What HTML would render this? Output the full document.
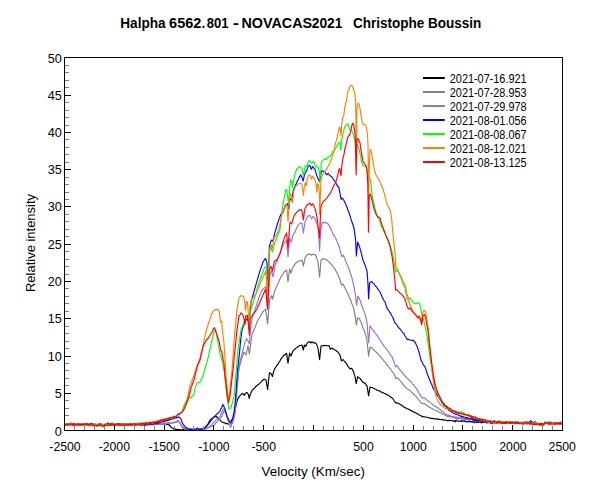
<!DOCTYPE html>
<html><head><meta charset="utf-8">
<title>Halpha 6562.801 - NOVACAS2021</title>
<style>
html,body{margin:0;padding:0;background:#fff;}
body{width:600px;height:500px;overflow:hidden;position:relative;font-family:"Liberation Sans",Arial,sans-serif;}
svg{position:absolute;left:0;top:0;display:block;}
text{font-family:"Liberation Sans",Arial,sans-serif;fill:#000;}
.tl{font-size:12.67px;}
.al{font-size:13.33px;}
.ti{font-size:13.8px;font-weight:bold;}
.lg{font-size:12px;}
.cv{fill:none;stroke-width:1.15;stroke-linejoin:round;stroke-linecap:round;}
</style></head><body>
<svg width="600" height="500" viewBox="0 0 600 500">
<rect x="0" y="0" width="600" height="500" fill="#fff"/>
<text class="ti" y="27.8" xml:space="preserve"><tspan x="120.26" textLength="45.33" lengthAdjust="spacingAndGlyphs">Halpha</tspan><tspan> </tspan><tspan x="169.14" textLength="32.19" lengthAdjust="spacingAndGlyphs">6562</tspan><tspan x="201.73" textLength="3.30" lengthAdjust="spacingAndGlyphs">.</tspan><tspan x="206.72" textLength="21.78" lengthAdjust="spacingAndGlyphs">801</tspan><tspan> </tspan><tspan x="232.70" textLength="6.20" lengthAdjust="spacingAndGlyphs">-</tspan><tspan> </tspan><tspan x="241.42" textLength="70.70" lengthAdjust="spacingAndGlyphs">NOVACAS</tspan><tspan x="311.79" textLength="30.63" lengthAdjust="spacingAndGlyphs">2021</tspan><tspan>   </tspan><tspan x="352.89" textLength="128.42" lengthAdjust="spacingAndGlyphs">Christophe Boussin</tspan></text>
<clipPath id="pc"><rect x="65" y="58" width="497" height="372"/></clipPath>
<g class="cv" clip-path="url(#pc)">
<polyline stroke="#000000" points="64.0,424.2 64.6,424.5 65.2,424.1 65.8,424.0 66.4,423.7 67.0,424.0 67.6,424.6 68.2,424.2 68.8,424.5 69.4,424.1 70.0,424.1 70.6,424.1 71.2,423.2 71.8,424.5 72.4,424.4 73.0,424.4 73.6,423.4 74.2,423.4 74.8,423.9 75.4,424.2 76.0,424.7 76.6,424.4 77.2,424.6 77.8,424.0 78.4,424.4 79.0,424.4 79.6,423.8 80.2,424.9 80.8,424.3 81.4,424.6 82.0,423.6 82.6,423.6 83.2,423.8 83.8,423.9 84.4,424.3 85.0,424.1 85.6,423.8 86.2,423.6 86.8,423.8 87.4,424.7 88.0,423.7 88.6,424.3 89.2,424.4 89.8,423.5 90.4,424.3 91.0,425.0 91.6,423.3 92.2,424.2 92.8,424.4 93.4,424.1 94.0,424.7 94.6,424.6 95.2,424.0 95.8,425.3 96.4,425.3 97.0,425.6 97.6,425.7 98.2,425.0 98.8,424.7 99.4,423.8 100.0,424.6 100.7,424.2 101.3,424.5 102.0,424.3 102.7,424.6 103.3,425.0 104.0,426.1 104.6,424.2 105.2,424.3 105.8,424.9 106.4,425.3 107.0,424.6 107.6,423.3 108.2,422.9 108.9,424.3 109.5,423.7 110.1,423.5 110.8,424.5 111.4,424.5 112.0,424.0 112.6,424.1 113.2,424.2 113.8,424.9 114.4,424.4 115.0,424.5 115.6,424.5 116.2,423.5 116.8,425.0 117.4,424.9 118.0,424.8 118.6,423.5 119.2,424.1 119.8,424.8 120.4,423.4 121.0,424.2 121.6,424.8 122.2,423.6 122.8,425.0 123.4,424.4 124.0,424.0 124.6,424.3 125.2,424.5 125.8,424.2 126.4,424.8 127.0,423.9 127.6,424.0 128.2,424.8 128.8,424.3 129.4,423.8 130.0,424.8 130.6,425.0 131.2,424.0 131.8,423.5 132.4,424.1 133.0,424.0 133.6,423.9 134.2,424.7 134.8,423.5 135.4,424.6 136.0,423.3 136.6,423.5 137.2,424.3 137.8,424.6 138.4,424.5 139.0,424.2 139.6,424.2 140.2,424.2 140.8,424.4 141.4,424.1 142.0,424.4 142.6,424.5 143.2,424.1 143.8,424.5 144.4,424.4 145.0,425.0 145.6,424.2 146.2,423.8 146.8,423.7 147.4,423.9 148.0,424.3 148.6,423.7 149.2,424.0 149.8,424.7 150.4,422.4 151.0,423.1 151.6,423.8 152.2,423.8 152.8,423.7 153.4,423.3 154.0,423.8 154.6,423.6 155.2,423.3 155.8,424.6 156.4,423.7 157.0,423.3 157.6,423.5 158.2,423.4 158.8,423.5 159.4,422.4 160.0,423.3 160.6,423.9 161.2,423.0 161.8,423.5 162.4,423.9 163.0,423.8 163.6,424.0 164.2,422.9 164.8,423.4 165.5,423.6 166.2,424.2 167.0,424.6 167.7,423.6 168.4,425.0 169.0,424.7 169.6,425.8 170.2,425.9 170.8,426.9 171.6,427.7 172.4,428.0 173.2,428.7 173.8,428.9 174.4,428.9 175.0,428.9 175.6,429.5 176.2,429.4 176.8,429.3 177.5,430.0 178.2,429.3 179.0,429.8 179.7,429.7 180.4,429.8 181.0,429.9 181.7,429.8 182.3,429.9 183.0,429.5 183.6,429.5 184.2,429.8 184.9,429.5 185.5,429.5 186.2,429.4 186.8,429.8 187.4,429.7 188.1,429.8 188.7,429.4 189.4,429.5 190.0,429.3 190.6,429.6 191.2,429.7 191.9,429.4 192.5,429.7 193.1,429.6 193.8,429.5 194.4,429.2 195.0,429.7 195.6,429.5 196.2,429.4 196.9,429.6 197.5,429.6 198.1,429.7 198.8,429.3 199.4,429.7 200.0,429.7 200.6,429.5 201.2,429.1 201.9,428.8 202.5,428.9 203.1,428.6 203.8,428.4 204.4,428.4 205.0,428.0 205.6,426.9 206.2,426.3 206.8,425.3 207.4,424.9 208.0,424.0 208.7,422.6 209.3,421.3 210.0,420.1 210.6,419.5 211.2,419.2 211.8,418.5 212.4,418.2 213.0,417.7 213.6,417.5 214.2,417.0 214.8,417.0 215.4,416.3 216.0,416.2 216.6,416.6 217.2,417.6 217.8,417.8 218.4,418.5 219.0,419.0 219.6,419.6 220.2,420.1 220.8,420.8 221.4,421.7 222.0,422.0 222.7,422.3 223.3,422.7 224.0,422.7 224.7,422.8 225.3,423.2 226.0,423.7 226.6,423.4 227.2,423.6 227.8,424.0 228.4,424.0 229.0,424.0 229.8,423.7 230.5,423.3 231.2,422.3 232.0,421.5 232.8,419.0 233.5,416.6 234.2,413.4 235.0,410.4 235.8,406.6 236.5,402.8 237.2,400.7 238.0,398.3 238.8,397.6 239.5,396.1 240.2,395.5 241.0,394.7 241.8,393.7 242.5,393.4 243.1,394.0 243.7,394.4 244.3,395.4 245.5,393.3 246.2,392.8 247.0,392.6 247.8,393.7 248.5,394.8 249.2,398.5 250.3,394.2 251.0,392.8 251.6,391.6 252.2,389.9 252.8,389.8 253.4,389.2 254.1,388.4 254.7,387.8 255.2,387.5 255.8,386.4 256.4,386.1 257.1,385.8 257.6,384.7 258.2,384.4 259.1,383.9 260.0,383.0 260.7,382.4 261.3,381.8 262.0,380.9 262.7,380.3 263.3,379.7 264.0,379.1 264.7,379.3 265.3,379.6 266.0,379.8 266.8,384.7 267.6,389.7 268.5,381.3 269.4,372.9 270.2,372.9 271.0,373.4 271.7,374.9 272.4,376.5 273.1,373.5 273.7,371.6 274.4,369.1 275.0,368.4 275.6,367.4 276.2,366.5 276.8,365.7 277.4,364.5 278.0,364.2 278.6,363.0 279.2,361.9 279.8,361.2 280.4,360.3 281.0,358.8 281.6,358.1 282.2,357.4 282.8,356.6 283.4,355.7 284.0,354.9 284.6,355.0 285.3,354.5 286.0,353.8 286.6,353.4 287.3,358.6 288.0,363.1 288.8,358.3 289.6,353.1 290.3,354.4 291.0,356.0 291.7,354.0 292.3,352.6 293.0,351.0 293.6,350.5 294.2,349.7 294.8,349.2 295.4,348.7 296.0,348.1 296.6,347.7 297.2,347.2 297.8,346.8 298.4,346.5 299.0,346.0 299.6,345.7 300.2,345.5 300.8,345.4 301.4,345.2 302.0,345.0 302.7,347.5 303.4,350.0 304.4,345.0 305.0,345.5 305.6,346.5 306.3,345.2 306.9,343.8 307.6,342.4 308.3,342.3 308.9,342.0 309.6,341.7 310.3,342.5 311.0,342.9 312.0,341.7 312.8,342.4 313.6,343.2 314.3,342.8 315.0,342.6 315.7,343.1 316.4,343.8 317.2,345.9 318.0,348.1 318.8,353.9 319.6,359.6 320.3,353.0 321.0,346.1 321.7,345.8 322.3,345.7 323.0,345.6 323.6,345.6 324.2,345.6 324.8,345.4 325.4,345.5 326.0,345.7 326.6,345.6 327.2,345.8 327.8,345.7 328.4,345.7 329.0,345.6 329.7,347.7 330.4,349.2 331.2,348.5 332.0,348.0 332.6,348.8 333.2,348.7 333.8,349.3 334.4,349.7 335.0,350.0 335.6,350.2 336.2,350.8 336.8,351.3 337.4,351.8 338.0,352.1 338.7,353.0 339.3,354.1 340.0,355.1 340.7,358.0 341.4,361.0 342.2,360.3 343.0,359.7 343.7,360.2 344.3,361.1 345.0,362.0 345.6,362.6 346.2,363.5 346.8,364.1 347.4,365.1 348.0,366.1 348.7,367.1 349.3,368.0 350.0,369.0 350.8,368.3 351.6,368.3 352.3,369.4 352.9,370.8 353.6,371.9 354.3,374.5 355.0,376.7 356.2,383.7 356.9,380.4 357.6,376.7 358.3,377.3 359.0,377.7 359.7,378.1 360.3,378.9 361.0,379.8 361.7,380.7 362.3,381.4 363.0,382.4 363.7,382.6 364.3,382.9 365.0,383.1 365.7,384.2 366.3,385.2 367.0,385.8 367.8,390.9 368.6,395.8 369.3,391.3 370.0,387.0 370.6,387.2 371.2,387.5 371.8,387.4 372.4,387.6 373.0,388.0 373.7,388.3 374.3,388.6 375.0,389.0 375.7,389.2 376.3,389.8 377.0,390.1 377.7,390.3 378.3,390.6 379.0,391.0 379.7,390.9 380.3,391.5 381.0,392.0 381.7,392.0 382.3,392.6 383.0,392.8 383.7,392.9 384.3,393.3 385.0,393.6 385.7,394.0 386.3,394.4 387.0,394.6 387.7,394.8 388.3,395.2 389.0,395.6 389.7,396.3 390.3,396.8 391.0,397.2 391.7,397.7 392.3,398.4 393.0,398.9 393.6,399.8 394.3,401.0 395.0,401.9 395.6,403.0 396.4,403.1 397.2,402.9 398.0,403.3 398.7,403.4 399.3,404.0 400.0,404.3 400.7,404.9 401.3,404.8 402.0,405.5 402.7,406.0 403.3,406.5 404.0,407.2 404.7,407.2 405.3,407.8 406.0,408.1 406.7,408.5 407.3,408.7 408.0,409.0 408.7,409.4 409.3,409.5 410.0,410.2 410.7,410.2 411.3,410.7 412.0,411.3 412.7,411.3 413.3,411.7 414.0,412.2 414.7,412.3 415.3,412.5 416.0,413.0 416.7,413.4 417.3,413.8 418.0,413.9 418.7,414.7 419.3,415.1 420.0,415.2 420.7,415.6 421.3,415.9 422.0,416.6 422.7,416.4 423.3,416.7 424.0,416.6 424.7,416.7 425.3,417.0 426.0,417.2 426.7,417.2 427.3,417.2 428.0,417.6 428.7,417.7 429.3,417.9 430.0,418.2 430.6,418.3 431.2,418.1 431.8,418.6 432.4,418.4 433.0,418.6 433.6,418.5 434.2,418.7 434.8,418.5 435.4,419.2 436.0,419.2 436.6,418.9 437.2,418.9 437.8,418.9 438.5,419.5 439.1,419.3 439.7,419.4 440.3,419.5 440.9,419.6 441.5,419.5 442.2,419.8 442.8,419.5 443.4,419.9 444.0,420.1 444.6,420.2 445.2,420.1 445.8,420.0 446.5,420.3 447.1,420.3 447.7,420.9 448.3,420.8 448.9,420.6 449.5,420.6 450.2,420.3 450.8,420.3 451.4,420.5 452.0,420.8 452.6,420.9 453.2,421.0 453.8,421.5 454.5,420.6 455.1,420.9 455.7,421.9 456.3,420.2 456.9,420.8 457.5,421.0 458.2,421.1 458.8,421.2 459.4,421.0 460.0,421.2 460.6,421.2 461.2,421.5 461.9,420.4 462.5,420.9 463.1,421.3 463.8,420.9 464.4,420.9 465.0,421.7 465.6,421.1 466.2,421.8 466.9,421.9 467.5,421.7 468.1,421.8 468.8,421.6 469.4,421.0 470.0,421.7 470.6,422.0 471.2,421.5 471.9,421.7 472.5,422.2 473.1,421.4 473.8,422.2 474.4,422.8 475.0,421.6 475.6,422.0 476.2,421.9 476.9,422.7 477.5,422.2 478.1,422.5 478.8,421.7 479.4,422.1 480.0,422.1 480.6,421.2 481.2,422.9 481.9,422.6 482.5,421.3 483.1,422.6 483.8,422.2 484.4,422.5 485.0,422.5 485.6,421.6 486.2,422.2 486.9,423.1 487.5,422.1 488.1,421.9 488.8,421.8 489.4,421.9 490.0,422.7 490.6,423.4 491.2,422.7 491.9,422.7 492.5,423.7 493.1,422.3 493.8,422.2 494.4,422.9 495.0,422.9 495.6,422.1 496.2,422.0 496.9,422.8 497.5,422.8 498.1,422.0 498.8,422.6 499.4,422.4 500.0,422.9 500.6,422.6 501.2,422.7 501.9,422.5 502.5,423.2 503.1,423.4 503.8,422.5 504.4,423.1 505.0,422.3 505.6,422.7 506.2,423.1 506.9,423.5 507.5,422.5 508.1,422.7 508.8,422.8 509.4,422.0 510.0,422.7 510.6,422.4 511.2,422.9 511.9,422.2 512.5,421.8 513.1,422.8 513.8,422.9 514.4,422.5 515.0,423.2 515.6,422.7 516.2,422.5 516.9,423.1 517.5,422.1 518.1,422.5 518.8,422.9 519.4,423.3 520.0,422.8 520.6,423.1 521.2,422.6 521.9,423.1 522.5,423.8 523.1,422.6 523.8,424.2 524.4,422.7 525.0,423.0 525.6,423.1 526.2,423.5 526.9,422.4 527.5,422.0 528.1,423.4 528.8,423.5 529.4,423.4 530.0,424.4 530.6,423.2 531.2,423.3 531.8,423.6 532.4,423.4 533.0,424.0 533.6,422.6 534.2,423.1 534.8,421.5 535.4,423.7 536.0,423.1 536.7,423.9 537.3,424.6 538.0,423.6 538.7,423.6 539.3,423.6 540.0,423.5 540.6,423.6 541.2,424.2 541.8,423.9 542.4,423.9 543.0,423.8 543.6,424.1 544.2,423.7 544.8,423.1 545.4,423.3 546.0,422.6 546.7,422.2 547.3,423.5 548.0,423.0 548.7,422.4 549.3,423.4 550.0,423.1 550.7,422.2 551.3,423.8 552.0,423.3 552.7,423.6 553.3,423.3 554.0,423.2 554.7,422.5 555.3,423.7 556.0,423.2 556.7,423.0 557.3,423.3 558.0,423.1 558.7,423.5 559.3,423.0 560.0,423.2 560.7,422.2 561.3,423.1 562.0,423.6"/>
<polyline stroke="#808080" points="64.0,424.7 64.6,425.0 65.2,424.1 65.8,424.2 66.4,425.0 67.0,424.0 67.6,424.5 68.2,425.0 68.8,424.1 69.4,424.7 70.0,423.6 70.6,424.2 71.2,424.1 71.8,424.2 72.4,424.8 73.0,425.5 73.6,424.0 74.2,424.1 74.8,424.7 75.4,424.0 76.0,424.8 76.6,424.8 77.2,424.3 77.8,424.7 78.4,423.6 79.0,424.7 79.6,423.5 80.2,423.8 80.8,423.8 81.4,423.9 82.0,424.4 82.6,424.1 83.2,423.8 83.8,424.3 84.4,424.9 85.0,424.1 85.6,424.3 86.2,424.8 86.8,424.3 87.4,423.5 88.0,425.4 88.6,425.3 89.2,423.3 89.8,424.3 90.4,424.6 91.0,424.9 91.6,424.8 92.2,424.3 92.8,424.0 93.4,424.6 94.0,425.1 94.6,424.2 95.2,424.3 95.8,424.9 96.4,424.1 97.0,425.1 97.6,424.8 98.2,425.1 98.8,424.4 99.4,424.1 100.0,424.2 100.7,424.6 101.3,424.5 102.0,425.0 102.7,425.6 103.3,426.0 104.0,426.5 104.6,425.0 105.2,424.9 105.8,423.6 106.4,425.6 107.0,424.0 107.6,424.3 108.2,424.6 108.9,423.6 109.5,424.4 110.1,424.1 110.8,423.2 111.4,424.2 112.0,424.6 112.6,423.1 113.2,424.5 113.8,424.3 114.4,424.5 115.0,424.5 115.6,425.0 116.2,424.3 116.8,424.9 117.4,424.3 118.0,425.0 118.6,424.2 119.2,424.5 119.8,425.3 120.4,424.7 121.0,424.3 121.6,423.8 122.2,423.9 122.8,424.4 123.4,424.7 124.0,424.4 124.6,424.5 125.2,424.2 125.8,424.9 126.4,424.1 127.0,424.0 127.6,424.8 128.2,424.4 128.8,424.2 129.4,424.1 130.0,424.3 130.6,424.7 131.2,424.5 131.8,423.7 132.4,424.5 133.0,424.3 133.6,423.7 134.2,424.5 134.8,423.9 135.4,423.9 136.0,424.4 136.6,424.7 137.2,423.7 137.8,424.4 138.4,423.7 139.0,425.4 139.6,424.0 140.2,424.9 140.8,424.0 141.4,424.8 142.0,425.5 142.6,423.2 143.2,424.2 143.8,424.7 144.4,424.3 145.0,424.0 145.6,425.4 146.2,424.4 146.8,423.5 147.4,424.8 148.0,423.5 148.6,424.9 149.2,424.0 149.8,424.4 150.4,424.9 151.0,424.3 151.6,423.6 152.2,423.4 152.8,424.8 153.4,424.6 154.0,423.8 154.6,424.6 155.2,424.4 155.8,424.4 156.4,423.1 157.0,423.9 157.6,424.4 158.2,424.3 158.8,424.3 159.4,422.9 160.0,423.9 160.6,424.0 161.2,424.8 161.8,423.4 162.4,423.6 163.0,423.7 163.6,423.9 164.2,423.4 164.8,424.0 165.4,423.2 166.0,423.6 166.6,423.2 167.2,423.4 167.8,423.1 168.4,422.7 169.0,423.5 169.6,423.2 170.2,423.1 170.8,423.3 171.4,423.4 172.0,422.8 172.7,423.0 173.4,423.0 174.2,422.9 174.9,422.6 175.6,422.1 176.2,422.5 176.8,422.0 177.4,421.5 178.0,421.1 178.6,421.9 179.2,422.4 179.8,423.0 180.7,424.7 181.6,426.3 182.2,427.1 182.8,427.7 183.4,428.7 184.1,428.4 184.7,428.7 185.4,428.4 186.0,428.6 186.7,428.7 187.3,428.5 188.0,428.4 188.6,428.6 189.3,428.7 189.9,428.5 190.5,428.7 191.2,428.9 191.8,428.9 192.5,429.0 193.1,429.2 193.7,429.3 194.4,429.4 195.0,429.4 195.6,429.2 196.2,429.3 196.9,429.2 197.5,429.2 198.1,429.2 198.8,428.9 199.4,429.1 200.0,429.1 200.6,429.0 201.2,429.1 201.9,429.2 202.5,429.1 203.1,429.4 203.8,428.6 204.4,429.0 205.0,428.7 205.6,428.9 206.2,428.9 206.9,427.9 207.5,428.0 208.1,427.8 208.8,427.5 209.4,427.3 210.0,426.7 210.7,426.8 211.3,426.4 212.0,426.0 212.7,425.6 213.3,425.4 214.0,424.9 214.7,424.4 215.3,423.6 216.0,422.7 216.7,422.3 217.3,421.7 218.0,421.1 218.7,420.0 219.3,419.3 220.0,418.6 220.7,417.7 221.3,417.0 222.0,416.3 222.6,414.4 223.2,412.7 223.8,411.6 224.4,410.2 225.2,412.1 226.0,414.1 226.7,415.9 227.3,417.9 228.0,420.1 228.6,421.6 229.2,423.2 229.8,425.1 230.4,427.4 231.2,425.8 232.0,423.9 232.7,421.9 233.3,420.0 234.0,417.9 234.8,411.2 235.5,404.0 236.2,394.8 237.0,386.2 237.7,379.9 238.3,374.0 239.0,368.0 239.6,366.0 240.2,364.0 240.8,361.9 241.4,359.7 242.0,357.7 242.7,355.8 243.3,353.9 244.0,352.0 244.7,353.0 245.3,354.1 246.0,355.0 246.7,351.9 247.3,348.9 248.0,345.7 248.7,350.0 249.4,354.1 250.1,349.1 250.7,344.0 251.3,339.0 252.0,334.1 252.7,332.7 253.3,331.4 254.0,330.1 254.7,328.4 255.3,326.9 256.0,324.9 256.7,323.3 257.3,321.5 258.0,319.9 258.7,319.1 259.3,317.9 260.0,316.5 260.7,315.4 261.3,314.3 262.0,313.1 262.6,312.5 263.2,311.5 263.8,310.9 264.4,310.4 265.0,309.9 265.6,309.0 266.3,313.9 266.9,318.9 267.6,323.9 268.3,315.9 268.9,308.2 269.6,299.9 270.3,298.5 270.9,297.3 271.6,295.7 272.6,299.1 273.4,295.9 274.2,293.1 275.0,290.2 275.6,288.8 276.2,287.6 276.8,286.1 277.4,284.9 278.0,283.5 278.6,282.3 279.2,281.1 279.8,279.4 280.4,278.3 281.0,277.0 281.6,275.9 282.2,275.0 282.8,274.1 283.4,273.3 284.0,272.1 284.6,271.5 285.3,270.8 286.0,270.8 286.6,270.0 287.3,276.0 288.0,281.8 288.8,275.5 289.6,268.8 290.3,271.0 291.0,273.1 291.7,271.0 292.3,269.0 293.0,266.9 293.6,266.4 294.2,265.3 294.8,264.3 295.4,263.8 296.0,262.9 296.6,262.4 297.2,262.1 297.8,261.8 298.4,261.2 299.0,261.0 299.6,261.0 300.2,260.7 300.8,260.4 301.4,260.2 302.0,260.0 302.7,263.0 303.4,266.1 304.2,262.0 305.0,257.6 305.6,257.1 306.3,256.1 307.0,255.4 307.6,254.3 308.4,254.3 309.2,254.5 310.0,253.8 310.8,254.6 311.6,255.4 312.3,254.7 312.9,254.3 313.6,254.1 314.4,254.6 315.2,255.1 316.0,255.8 316.7,258.1 317.3,259.9 318.0,261.9 318.8,269.5 319.6,277.2 320.3,268.8 321.0,260.2 321.7,259.5 322.3,259.0 323.0,258.7 323.6,258.9 324.2,258.8 324.8,259.2 325.4,259.4 326.0,259.6 326.6,260.0 327.2,260.4 327.8,261.0 328.4,261.3 329.0,262.2 329.6,262.7 330.2,263.0 330.8,264.0 331.4,264.5 332.0,264.7 332.6,266.1 333.2,266.7 333.8,267.7 334.4,268.0 335.0,269.1 335.6,270.3 336.2,271.4 336.8,272.6 337.4,274.0 338.0,274.8 338.7,276.5 339.3,278.1 340.0,279.9 340.7,282.4 341.4,285.1 342.2,284.5 343.0,284.0 343.7,285.2 344.3,286.6 345.0,288.1 345.6,289.3 346.2,290.4 346.8,291.6 347.4,293.0 348.0,293.9 348.6,295.5 349.2,297.0 349.8,298.2 350.4,299.7 351.0,300.8 351.6,302.9 352.3,304.5 353.0,306.0 353.6,308.1 354.4,311.9 355.2,316.2 356.4,324.9 357.0,321.5 357.6,318.0 358.3,318.0 359.0,318.0 359.7,319.3 360.3,320.8 361.0,322.0 361.7,324.0 362.3,325.6 363.0,328.2 364.0,330.0 364.7,331.7 365.3,334.0 366.0,336.1 367.0,341.2 367.8,348.3 368.6,356.2 369.3,351.5 370.0,347.4 370.7,347.3 371.3,347.8 372.0,347.9 372.7,348.5 373.3,349.5 374.0,350.1 374.7,350.9 375.3,351.5 376.0,351.9 376.7,352.4 377.3,353.2 378.0,353.9 378.7,354.5 379.3,355.4 380.0,356.0 380.7,356.8 381.3,357.7 382.0,358.5 382.7,359.4 383.3,360.3 384.0,361.1 384.7,361.7 385.3,362.4 386.0,363.7 386.7,364.4 387.3,365.3 388.0,365.8 388.7,366.8 389.3,367.7 390.0,368.3 390.7,369.3 391.3,370.3 392.0,371.2 392.6,372.2 393.2,372.9 393.8,373.8 394.4,375.1 395.0,376.1 396.0,378.4 396.7,378.1 397.3,378.3 398.0,378.1 398.7,378.9 399.3,379.6 400.0,380.5 400.7,381.5 401.3,382.1 402.0,382.7 402.7,383.9 403.3,384.7 404.0,385.5 404.7,386.5 405.3,387.1 406.0,388.0 406.7,388.4 407.3,388.9 408.0,389.4 408.7,389.6 409.3,390.3 410.0,390.6 410.6,391.1 411.2,391.7 411.8,392.5 412.4,392.8 413.0,393.4 413.6,393.8 414.2,394.7 414.8,395.4 415.4,395.9 416.0,396.5 416.6,397.1 417.2,397.9 417.8,398.4 418.4,399.6 419.0,400.1 419.6,400.7 420.2,401.5 420.8,402.3 422.0,403.7 422.8,403.7 423.6,403.2 424.4,403.5 425.0,404.0 425.6,404.4 426.2,404.8 426.8,405.4 427.4,406.0 428.0,406.7 428.6,406.8 429.2,406.9 429.8,407.5 430.4,407.6 431.0,408.2 431.6,408.2 432.2,408.6 432.8,408.9 433.4,409.2 434.0,409.8 434.6,410.0 435.2,410.3 435.8,410.6 436.4,410.5 437.0,411.0 437.6,411.3 438.2,411.5 438.8,412.1 439.4,412.2 440.0,412.5 440.6,412.7 441.2,412.8 441.8,413.6 442.4,414.1 443.0,414.1 443.6,414.2 444.2,414.0 444.8,415.0 445.4,415.6 446.0,415.7 446.6,416.0 447.2,416.4 447.8,416.5 448.4,416.2 449.0,416.8 449.6,416.9 450.2,416.2 450.8,416.7 451.4,416.6 452.0,417.2 452.6,417.5 453.2,417.0 453.8,416.8 454.4,418.0 455.0,417.8 455.6,418.3 456.2,417.4 456.8,418.4 457.4,418.8 458.0,418.9 458.6,418.2 459.2,418.4 459.8,418.4 460.4,418.9 461.0,419.0 461.6,418.7 462.2,418.2 462.8,419.1 463.4,418.7 464.0,419.3 464.6,419.2 465.2,419.9 465.8,419.7 466.4,419.0 467.0,419.5 467.6,420.2 468.2,419.2 468.8,419.7 469.4,420.1 470.0,420.2 470.6,419.9 471.2,419.1 471.8,419.1 472.4,420.0 473.0,420.1 473.6,421.2 474.2,419.6 474.8,420.6 475.4,420.5 476.0,419.4 476.6,419.8 477.2,420.4 477.8,420.1 478.4,420.3 479.0,420.7 479.6,420.1 480.2,420.8 480.8,420.3 481.4,420.4 482.0,420.9 482.6,420.5 483.2,421.1 483.8,421.8 484.5,421.2 485.1,421.2 485.7,421.7 486.3,421.3 486.9,422.2 487.5,421.1 488.2,422.2 488.8,421.7 489.4,421.7 490.0,423.1 490.6,421.8 491.2,423.1 491.9,422.6 492.5,423.0 493.1,421.8 493.8,422.9 494.4,423.1 495.0,422.3 495.6,422.4 496.2,423.7 496.9,422.6 497.5,422.3 498.1,422.2 498.8,422.8 499.4,422.7 500.0,422.7 500.6,423.5 501.2,422.5 501.9,422.9 502.5,423.4 503.1,422.2 503.8,423.2 504.4,423.6 505.0,422.0 505.6,422.2 506.2,422.2 506.9,421.8 507.5,423.0 508.1,421.8 508.8,423.0 509.4,423.5 510.0,422.0 510.6,422.7 511.2,421.9 511.9,423.2 512.5,422.5 513.1,422.7 513.8,422.9 514.4,423.2 515.0,422.7 515.6,422.9 516.2,422.7 516.9,423.0 517.5,422.4 518.1,423.0 518.8,422.0 519.4,422.7 520.0,424.0 520.6,423.1 521.2,422.4 521.9,423.2 522.5,422.6 523.1,422.2 523.8,422.7 524.4,423.5 525.0,423.3 525.6,423.1 526.2,422.7 526.9,422.6 527.5,423.8 528.1,423.3 528.8,422.7 529.4,422.1 530.0,422.5 530.6,424.5 531.2,422.7 531.8,423.2 532.4,423.4 533.0,423.2 533.6,423.2 534.2,422.7 534.8,422.8 535.4,424.2 536.0,423.0 536.7,423.9 537.3,422.8 538.0,423.6 538.7,423.9 539.3,424.4 540.0,423.4 540.6,424.3 541.2,424.2 541.8,423.6 542.4,424.2 543.0,423.6 543.6,423.4 544.2,423.5 544.8,421.9 545.4,423.0 546.0,422.3 546.7,422.1 547.3,422.7 548.0,423.3 548.7,422.7 549.3,423.6 550.0,422.4 550.7,422.4 551.3,423.9 552.0,423.4 552.7,423.7 553.3,422.9 554.0,423.8 554.7,423.5 555.3,423.7 556.0,423.3 556.7,423.9 557.3,422.9 558.0,422.7 558.7,422.5 559.3,423.8 560.0,422.9 560.7,422.8 561.3,422.9 562.0,423.6"/>
<polyline stroke="#9370DB" points="64.0,424.3 64.6,423.8 65.2,424.3 65.8,424.1 66.4,424.1 67.0,423.8 67.6,424.3 68.2,424.0 68.8,424.2 69.4,424.3 70.0,424.3 70.6,423.1 71.2,424.0 71.8,423.9 72.4,424.7 73.0,423.6 73.6,424.1 74.2,424.4 74.8,424.4 75.4,425.1 76.0,424.5 76.6,425.1 77.2,423.8 77.8,423.6 78.4,425.1 79.0,424.6 79.6,424.6 80.2,424.3 80.8,424.5 81.4,423.6 82.0,424.6 82.6,423.9 83.2,424.6 83.8,424.2 84.4,423.2 85.0,423.6 85.6,424.8 86.2,424.2 86.8,424.1 87.4,424.4 88.0,424.1 88.6,424.1 89.2,424.4 89.8,424.5 90.4,425.2 91.0,424.5 91.6,425.5 92.2,425.5 92.8,425.5 93.4,425.2 94.0,424.8 94.6,424.9 95.2,424.9 95.8,424.7 96.4,425.1 97.0,425.0 97.6,426.0 98.2,425.2 98.8,424.6 99.4,423.7 100.0,424.5 100.7,424.5 101.3,424.4 102.0,424.5 102.7,424.2 103.3,425.8 104.0,425.7 104.6,426.8 105.2,425.2 105.8,424.9 106.4,425.5 107.0,424.6 107.6,424.5 108.2,424.2 108.9,424.0 109.5,425.0 110.1,424.8 110.8,425.1 111.4,424.0 112.0,424.1 112.6,423.7 113.2,424.7 113.8,423.6 114.4,424.6 115.0,424.9 115.6,425.2 116.2,424.1 116.8,425.1 117.4,424.3 118.0,424.3 118.6,424.0 119.2,425.2 119.8,425.4 120.4,424.2 121.0,424.1 121.6,424.3 122.2,425.7 122.8,424.9 123.4,424.1 124.0,423.4 124.6,424.0 125.2,424.9 125.8,425.3 126.4,424.2 127.0,424.1 127.6,424.2 128.2,423.5 128.8,424.9 129.4,423.9 130.0,425.0 130.6,423.6 131.2,423.8 131.8,424.5 132.4,424.0 133.0,424.7 133.6,424.3 134.2,423.6 134.8,424.5 135.4,424.6 136.0,423.1 136.6,425.1 137.2,424.4 137.8,424.6 138.4,423.3 139.0,424.0 139.6,424.2 140.2,424.9 140.8,423.7 141.4,424.1 142.0,423.5 142.6,424.4 143.2,424.7 143.8,423.7 144.4,424.2 145.0,424.7 145.6,425.3 146.2,424.8 146.8,424.3 147.4,423.8 148.0,424.0 148.6,424.1 149.2,424.5 149.8,424.4 150.4,425.2 151.0,424.5 151.6,423.8 152.2,425.1 152.8,424.8 153.4,424.4 154.0,424.0 154.6,423.4 155.2,423.8 155.8,424.6 156.4,423.8 157.0,423.5 157.6,424.1 158.2,424.1 158.8,424.2 159.4,424.2 160.0,424.4 160.6,423.5 161.2,424.2 161.8,423.4 162.4,424.0 163.0,423.7 163.6,423.7 164.2,423.9 164.8,423.5 165.4,423.9 166.0,423.8 166.6,423.4 167.2,423.1 167.8,423.0 168.4,423.0 169.0,423.0 169.6,423.0 170.2,423.9 170.8,423.2 171.4,423.1 172.0,422.6 172.7,422.5 173.4,422.4 174.2,422.4 174.9,421.9 175.6,422.4 176.2,421.5 176.8,421.5 177.4,420.3 178.0,420.4 179.2,421.5 179.8,422.5 180.4,423.6 181.0,424.6 181.6,425.6 182.2,425.9 182.8,426.7 183.4,427.0 184.0,428.1 184.6,428.3 185.2,428.6 185.8,428.8 186.4,429.1 187.2,429.4 188.0,429.3 188.6,429.0 189.3,429.3 189.9,428.9 190.5,428.9 191.2,429.2 191.8,429.1 192.5,429.2 193.1,429.4 193.7,429.9 194.4,429.4 195.0,429.5 195.6,429.5 196.2,429.4 196.9,429.5 197.5,429.6 198.1,429.2 198.8,429.3 199.4,429.2 200.0,429.3 200.6,429.0 201.2,428.9 201.9,428.8 202.5,429.2 203.1,429.1 203.8,429.1 204.4,428.7 205.0,428.9 205.7,428.6 206.3,428.1 207.0,427.9 207.7,427.8 208.3,427.4 209.0,427.0 209.6,426.5 210.2,425.7 210.8,425.2 211.4,424.6 212.0,424.1 212.7,423.3 213.3,422.6 214.0,422.0 214.7,421.2 215.3,421.0 216.0,420.1 216.7,419.4 217.3,419.0 218.0,418.2 218.7,417.1 219.3,416.8 220.0,416.1 220.7,414.9 221.3,413.5 222.0,412.1 222.7,410.5 223.3,409.2 224.0,408.0 224.6,409.7 225.2,411.0 225.8,412.7 226.4,414.3 227.0,416.0 227.6,417.7 228.2,419.2 228.8,420.6 229.4,422.6 230.0,424.2 230.6,423.7 231.2,423.7 231.8,423.3 232.4,423.1 233.1,420.8 233.7,418.4 234.3,416.3 235.0,414.2 235.7,405.9 236.3,398.3 237.0,390.3 237.7,382.3 238.3,374.3 239.0,366.1 239.6,363.5 240.2,361.1 240.8,358.7 241.4,356.4 242.0,354.0 242.6,351.7 243.2,348.9 243.8,347.1 244.4,344.7 245.0,342.0 245.7,340.4 246.4,338.6 247.2,339.8 248.0,341.0 248.7,342.4 249.4,343.7 250.5,329.0 251.2,324.0 252.0,319.0 252.8,316.4 253.5,314.0 254.2,312.0 254.8,310.1 255.5,307.8 256.2,306.1 256.8,304.1 257.5,302.1 258.2,299.9 258.8,297.9 259.5,296.0 260.2,294.4 260.8,292.9 261.5,291.0 262.2,290.1 262.8,289.4 263.5,288.5 264.2,288.0 264.8,287.7 265.5,287.5 266.2,286.1 266.9,297.3 267.6,308.8 268.3,298.4 268.9,287.5 269.6,277.0 270.3,274.7 270.9,272.3 271.6,269.8 272.3,273.5 273.0,277.0 273.7,273.4 274.3,269.5 275.0,266.2 275.6,264.1 276.2,262.8 276.8,261.2 277.4,259.7 278.0,257.9 278.6,256.5 279.2,254.7 279.8,253.3 280.4,251.9 281.0,249.9 281.6,248.7 282.2,247.1 282.8,245.9 283.4,244.6 284.0,243.0 284.6,242.1 285.3,241.6 286.0,240.9 286.6,240.2 287.3,248.6 288.0,256.7 288.8,247.4 289.6,238.2 290.4,239.8 291.2,242.2 291.8,239.9 292.4,237.4 293.0,235.2 293.7,234.0 294.3,232.8 295.0,232.0 295.7,230.3 296.3,228.7 297.0,227.1 297.6,226.2 298.2,225.4 298.8,224.7 299.4,223.8 300.0,223.3 300.7,223.1 301.3,223.0 302.0,223.0 302.7,227.9 303.4,233.2 304.2,227.5 305.0,221.8 305.6,220.7 306.2,219.6 306.8,218.3 307.4,217.4 308.0,215.8 308.7,215.9 309.3,215.8 310.0,215.4 310.8,217.3 311.6,219.0 312.3,217.8 313.0,216.3 313.7,217.3 314.3,217.9 315.0,218.8 315.7,220.8 316.3,222.5 317.0,224.0 317.7,226.9 318.4,230.2 319.0,240.2 319.6,250.9 320.6,230.1 321.3,226.6 322.0,222.8 322.6,222.6 323.2,223.0 323.8,222.7 324.4,222.4 325.0,222.4 325.6,222.9 326.2,222.7 326.8,223.5 327.4,223.8 328.0,223.7 328.7,225.1 329.3,225.7 330.0,227.2 330.6,228.5 331.2,230.1 331.8,231.1 332.4,232.6 333.0,234.2 333.6,234.9 334.2,235.9 334.8,236.9 335.4,238.0 336.0,238.8 336.6,240.5 337.2,241.9 337.8,243.2 338.4,244.9 339.0,246.0 339.7,248.9 340.3,251.3 341.0,254.1 342.0,256.7 342.7,256.0 343.4,255.0 344.0,256.7 344.7,258.4 345.4,260.2 346.0,261.9 346.6,263.1 347.2,264.7 347.8,266.1 348.4,267.5 349.0,268.8 349.6,270.8 350.2,272.7 350.8,274.4 351.4,276.1 352.0,278.2 352.7,281.1 353.3,284.1 354.0,287.2 354.8,291.5 355.6,296.0 356.6,305.2 357.3,300.4 358.0,296.0 358.8,297.6 359.6,299.1 360.4,301.3 361.2,303.8 362.0,306.0 362.6,307.7 363.2,309.4 363.8,310.9 364.4,312.5 365.0,313.8 365.7,316.5 366.3,319.2 367.0,322.1 367.8,332.7 368.6,342.8 369.3,334.5 370.0,325.9 370.6,326.7 371.2,327.6 371.8,328.5 372.4,329.2 373.0,330.2 373.6,330.7 374.2,331.7 374.8,332.5 375.4,333.2 376.0,334.1 376.7,334.9 377.3,335.8 378.0,336.9 378.7,337.9 379.3,339.4 380.0,339.9 380.7,341.2 381.3,342.0 382.0,343.0 382.7,344.1 383.3,344.9 384.0,346.1 384.7,346.9 385.3,347.4 386.0,348.6 386.7,349.4 387.3,350.2 388.0,351.2 388.7,351.9 389.3,353.1 390.0,354.1 390.7,354.9 391.3,356.2 392.0,356.8 392.8,358.8 393.6,361.1 394.4,362.8 395.0,365.0 395.6,366.8 396.3,366.3 397.0,365.4 397.6,366.5 398.2,367.1 398.8,368.3 399.4,369.1 400.0,370.0 400.7,370.8 401.3,371.7 402.0,372.3 402.7,372.9 403.3,374.2 404.0,374.9 404.7,375.6 405.3,376.4 406.0,376.7 406.7,377.6 407.3,378.2 408.0,378.8 408.7,379.6 409.3,380.2 410.0,380.7 410.6,381.4 411.2,382.4 411.8,382.9 412.4,383.8 413.0,384.5 413.6,384.8 414.2,385.7 414.8,386.6 415.4,387.3 416.0,388.1 416.6,389.1 417.2,390.1 417.8,390.9 418.4,391.9 419.0,393.0 419.6,393.8 420.2,395.0 420.8,395.6 422.0,398.3 422.8,398.0 423.6,397.5 424.4,397.7 425.0,398.2 425.6,398.8 426.2,399.2 426.8,399.9 427.4,400.8 428.0,401.1 428.6,401.1 429.2,401.9 429.8,402.3 430.4,402.9 431.0,403.2 431.6,403.6 432.2,404.0 432.8,404.7 433.4,404.8 434.0,405.7 434.6,405.7 435.2,406.1 435.8,406.8 436.4,407.2 437.0,407.3 437.6,408.1 438.2,408.0 438.8,408.6 439.4,409.4 440.0,409.5 440.6,409.8 441.2,410.7 441.8,411.2 442.4,411.5 443.0,411.6 443.6,412.4 444.2,413.1 444.8,413.6 445.4,414.4 446.0,414.3 446.6,414.5 447.2,414.9 447.8,415.5 448.4,415.1 449.0,416.0 449.6,415.0 450.2,416.2 450.8,416.0 451.4,416.6 452.0,416.9 452.6,416.4 453.2,416.9 453.8,417.1 454.4,417.4 455.0,417.0 455.6,417.1 456.2,416.8 456.8,418.6 457.4,417.7 458.0,417.8 458.6,417.4 459.2,418.4 459.8,417.9 460.4,418.7 461.0,418.5 461.6,418.3 462.2,418.6 462.8,417.9 463.4,418.3 464.0,418.2 464.6,418.0 465.2,418.6 465.8,418.5 466.4,419.3 467.0,417.1 467.6,418.4 468.2,418.3 468.8,418.6 469.4,419.0 470.0,419.1 470.6,419.0 471.2,418.8 471.8,419.4 472.4,419.4 473.0,418.4 473.6,419.2 474.2,418.8 474.8,418.9 475.4,419.7 476.0,419.7 476.6,419.8 477.2,419.4 477.8,419.8 478.4,419.5 479.0,420.2 479.6,420.4 480.2,421.0 480.8,420.8 481.4,419.8 482.0,420.1 482.6,420.0 483.2,420.8 483.8,421.8 484.5,421.3 485.1,420.0 485.7,420.6 486.3,420.7 486.9,421.8 487.5,421.7 488.2,422.0 488.8,422.9 489.4,421.7 490.0,421.9 490.6,423.3 491.2,422.5 491.9,422.0 492.5,421.4 493.1,421.7 493.8,421.2 494.4,422.5 495.0,422.5 495.6,423.0 496.2,422.5 496.9,422.2 497.5,422.2 498.1,423.6 498.8,421.8 499.4,422.8 500.0,422.7 500.6,423.0 501.2,422.5 501.9,423.0 502.5,423.2 503.1,422.7 503.8,422.5 504.4,422.7 505.0,422.3 505.6,422.7 506.2,422.7 506.9,422.9 507.5,423.5 508.1,423.5 508.8,422.7 509.4,423.2 510.0,423.0 510.6,423.3 511.2,422.9 511.9,423.1 512.5,422.7 513.1,422.6 513.8,423.4 514.4,423.6 515.0,423.3 515.6,423.2 516.2,423.2 516.9,422.8 517.5,422.2 518.1,423.4 518.8,423.2 519.4,422.8 520.0,422.6 520.6,423.8 521.2,422.2 521.9,424.0 522.5,423.5 523.1,424.3 523.8,422.8 524.4,423.2 525.0,422.9 525.6,423.3 526.2,423.1 526.9,422.9 527.5,423.8 528.1,422.9 528.8,423.0 529.4,423.6 530.0,423.0 530.6,423.1 531.2,423.5 531.8,423.2 532.4,422.8 533.0,423.3 533.6,423.3 534.2,424.3 534.8,422.9 535.4,424.0 536.0,423.1 536.7,423.4 537.3,423.5 538.0,423.9 538.7,424.3 539.3,424.9 540.0,423.8 540.6,424.8 541.2,424.6 541.8,424.5 542.4,423.7 543.0,424.6 543.6,423.8 544.2,423.8 544.8,423.2 545.4,423.5 546.0,423.5 546.7,423.5 547.3,422.9 548.0,423.5 548.7,423.8 549.3,422.6 550.0,423.8 550.7,422.5 551.3,423.5 552.0,423.6 552.7,424.1 553.3,423.6 554.0,423.3 554.7,423.1 555.3,422.8 556.0,423.8 556.7,423.2 557.3,423.0 558.0,423.6 558.7,423.0 559.3,423.1 560.0,423.2 560.7,424.3 561.3,424.2 562.0,423.6"/>
<polyline stroke="#0000FF" points="64.0,424.5 64.6,423.8 65.2,424.7 65.8,424.5 66.4,424.6 67.0,424.7 67.6,424.2 68.2,424.8 68.8,424.7 69.4,424.3 70.0,424.0 70.6,424.0 71.2,424.7 71.8,423.8 72.4,424.4 73.0,424.1 73.6,423.9 74.2,424.9 74.8,424.7 75.4,424.8 76.0,425.2 76.6,424.0 77.2,424.6 77.8,424.8 78.4,425.0 79.0,424.0 79.6,424.8 80.2,424.5 80.8,425.0 81.4,424.8 82.0,424.5 82.6,425.3 83.2,424.2 83.8,424.0 84.4,424.1 85.0,423.8 85.6,424.3 86.2,423.4 86.8,424.3 87.4,424.6 88.0,424.9 88.6,424.3 89.2,425.2 89.8,424.2 90.4,424.5 91.0,423.7 91.6,424.3 92.2,424.3 92.8,425.4 93.4,425.0 94.0,424.3 94.6,425.2 95.2,425.3 95.8,425.0 96.4,425.3 97.0,425.3 97.6,425.0 98.2,424.2 98.8,424.9 99.4,425.4 100.0,425.3 100.7,424.7 101.3,424.6 102.0,425.1 102.7,425.8 103.3,425.8 104.0,425.5 104.6,425.7 105.2,425.2 105.8,425.3 106.4,424.6 107.0,423.9 107.6,424.6 108.2,424.9 108.9,423.9 109.5,424.3 110.1,424.8 110.8,424.1 111.4,423.9 112.0,425.2 112.6,424.7 113.2,424.8 113.8,423.9 114.4,425.2 115.0,423.7 115.6,424.3 116.2,425.0 116.8,425.3 117.4,424.3 118.0,424.5 118.6,424.9 119.2,423.8 119.8,425.0 120.4,424.9 121.0,424.4 121.6,424.8 122.2,424.9 122.8,424.6 123.4,424.7 124.0,425.1 124.6,424.2 125.2,424.5 125.8,424.2 126.4,425.0 127.0,424.3 127.6,424.8 128.2,424.6 128.8,424.6 129.4,425.4 130.0,424.6 130.6,425.2 131.2,424.9 131.8,425.1 132.4,424.4 133.0,424.8 133.6,424.7 134.2,424.0 134.8,424.4 135.4,424.2 136.0,424.2 136.6,424.9 137.2,423.9 137.8,423.5 138.4,423.5 139.0,424.2 139.6,424.2 140.2,424.5 140.8,424.8 141.4,425.4 142.0,424.8 142.6,424.8 143.2,424.2 143.8,424.8 144.4,425.1 145.0,425.1 145.6,423.4 146.2,424.8 146.8,425.1 147.4,424.7 148.0,423.5 148.6,424.0 149.2,424.4 149.8,424.3 150.4,423.7 151.0,423.6 151.6,424.4 152.2,423.3 152.8,424.5 153.4,423.9 154.0,423.9 154.6,423.1 155.2,423.3 155.8,423.7 156.4,422.6 157.0,423.9 157.6,422.4 158.2,422.3 158.8,422.7 159.4,422.7 160.0,422.6 160.6,422.1 161.2,422.0 161.8,421.8 162.4,421.5 163.0,420.7 163.6,421.8 164.2,421.4 164.8,421.2 165.4,420.7 166.0,420.9 166.6,420.6 167.2,420.4 167.8,420.6 168.4,419.6 169.0,420.0 169.6,419.4 170.2,419.4 170.8,419.8 171.4,418.9 172.0,419.0 172.7,418.7 173.4,418.9 174.2,418.2 174.9,417.8 175.6,418.2 176.2,417.7 176.8,417.5 177.4,417.6 178.0,417.0 179.2,417.1 179.8,417.8 180.4,418.5 181.0,418.9 181.6,420.8 182.2,422.6 182.8,423.7 183.6,425.1 184.4,425.5 185.2,427.0 185.8,427.2 186.4,427.7 187.0,428.1 187.6,428.5 188.2,428.7 188.8,429.0 189.4,429.5 190.0,429.7 190.6,429.5 191.2,429.5 191.8,429.5 192.4,429.5 193.0,430.0 193.6,429.8 194.2,429.8 194.8,429.7 195.6,429.1 196.4,428.8 197.2,428.1 197.8,428.5 198.4,429.3 199.1,429.0 199.8,429.3 200.6,429.1 201.3,429.1 202.0,429.3 202.7,429.0 203.3,428.9 204.0,428.4 204.6,428.2 205.2,427.7 205.8,427.0 206.4,426.6 207.0,425.9 207.6,425.2 208.2,424.2 208.8,423.6 209.4,422.8 210.0,422.2 210.6,421.3 211.2,420.5 211.8,419.5 212.4,418.8 213.0,418.0 213.6,417.4 214.2,416.5 214.8,416.3 215.4,415.4 216.0,414.9 216.7,414.3 217.3,413.6 218.0,413.2 218.7,412.3 219.3,411.9 220.0,411.2 220.6,409.6 221.2,408.4 221.8,407.2 222.4,405.7 223.0,404.4 223.7,405.9 224.3,407.5 225.0,408.9 225.7,411.3 226.3,413.8 227.0,416.2 227.8,418.0 228.5,420.0 229.1,421.0 229.8,421.7 230.4,421.2 231.0,421.2 231.9,419.4 232.8,418.1 233.4,414.9 234.0,412.3 235.0,404.3 235.8,394.9 236.5,385.2 237.5,369.9 238.1,365.0 238.8,359.4 239.5,352.7 240.2,345.1 241.0,337.1 242.0,330.0 242.6,328.0 243.2,326.8 243.8,325.2 244.4,323.5 245.0,322.0 245.6,320.7 246.2,319.9 246.8,319.3 247.4,318.2 248.2,320.9 249.0,323.9 249.7,316.7 250.3,309.5 251.0,302.1 251.7,299.5 252.3,297.4 253.0,295.0 253.7,292.9 254.3,290.5 255.0,288.1 255.7,285.8 256.3,283.3 257.0,281.2 257.7,278.6 258.3,276.4 259.0,274.1 259.7,271.9 260.3,269.9 261.0,267.7 261.7,266.0 262.3,264.0 263.0,262.0 263.6,261.2 264.3,259.9 265.0,259.3 265.6,258.4 266.3,260.7 267.0,263.1 268.0,290.3 268.7,267.9 269.4,245.9 270.1,243.9 270.7,242.0 271.4,240.1 272.2,240.4 273.0,241.1 273.7,237.9 274.3,235.1 275.0,232.1 275.6,230.1 276.2,228.3 276.8,226.0 277.4,224.0 278.0,222.1 278.6,220.5 279.2,218.6 279.8,217.2 280.4,215.5 281.0,214.1 281.7,213.5 282.4,212.7 283.1,212.0 283.7,210.3 284.4,208.1 285.0,206.9 285.6,205.1 286.2,204.6 286.9,204.1 287.5,203.6 288.1,206.2 288.8,208.9 289.8,200.0 290.6,198.9 291.2,199.3 291.9,200.6 292.5,196.0 293.1,191.2 293.7,189.3 294.4,187.8 295.0,186.4 295.6,184.8 296.3,183.6 296.9,182.3 297.5,181.0 298.1,179.7 298.8,178.2 299.4,176.8 300.0,176.3 300.6,174.9 301.2,175.9 301.9,177.1 302.5,179.1 303.1,181.1 303.8,178.0 304.4,174.9 305.0,173.6 305.6,172.5 306.2,171.4 306.9,170.1 307.5,167.9 308.1,166.7 308.7,165.9 309.4,165.8 310.0,165.6 310.6,167.6 311.2,169.3 311.9,167.9 312.5,166.6 313.1,167.2 313.8,168.0 314.4,168.8 315.0,169.3 315.8,172.1 316.5,175.0 317.3,176.9 318.1,178.7 318.8,180.4 319.4,181.9 320.0,178.3 320.6,175.1 321.2,172.8 321.9,170.8 322.5,170.7 323.1,171.1 323.8,171.3 324.4,171.5 325.0,172.3 325.6,173.0 326.2,174.3 326.9,174.7 327.5,174.2 328.1,173.3 328.7,174.0 329.4,174.9 330.0,175.5 330.6,176.0 331.3,176.5 331.9,176.9 332.5,178.0 333.1,178.9 333.8,179.9 334.4,180.8 335.0,181.7 335.6,182.3 336.2,183.6 336.9,184.9 337.5,186.2 338.1,186.8 338.8,187.1 339.4,190.3 340.0,193.1 341.0,199.5 341.6,198.5 342.2,198.1 343.0,199.1 343.8,200.1 344.4,201.4 345.0,202.7 345.6,203.8 346.2,205.6 346.8,207.0 347.4,208.4 348.0,210.2 348.6,211.7 349.2,213.5 349.8,215.3 350.4,217.1 351.0,219.1 351.6,220.9 352.2,222.8 352.8,224.5 353.4,226.1 354.0,228.2 354.8,233.9 355.6,239.9 356.4,256.0 357.0,249.0 357.6,242.2 358.3,243.4 359.0,245.1 359.7,247.3 360.3,249.5 361.0,251.8 361.7,254.6 362.3,257.4 363.0,260.0 363.7,261.7 364.3,263.3 365.0,264.9 365.7,267.1 366.3,268.9 367.0,270.8 368.0,284.0 368.6,298.8 369.6,282.9 370.3,282.4 370.9,282.0 371.6,281.6 372.4,282.3 373.2,283.1 374.0,283.8 374.6,284.8 375.2,285.5 375.8,286.5 376.4,286.8 377.0,287.9 377.6,288.8 378.2,289.2 378.8,290.3 379.4,291.2 380.0,292.0 380.6,293.2 381.2,294.8 381.8,296.2 382.4,297.5 383.0,299.1 383.7,300.0 384.3,301.0 385.0,301.9 385.7,304.1 386.3,306.0 387.0,308.2 387.7,309.1 388.3,309.9 389.0,311.0 389.7,312.1 390.3,312.9 391.0,314.1 391.7,315.4 392.3,316.6 393.0,317.7 393.7,319.7 394.3,321.4 395.0,323.0 395.7,323.4 396.4,324.2 397.2,325.5 398.0,326.9 398.6,327.5 399.2,328.3 399.8,328.6 400.4,329.3 401.0,330.3 401.6,331.0 402.2,331.8 402.8,332.6 403.4,333.3 404.0,333.8 404.6,335.2 405.2,336.2 405.8,337.1 406.4,337.7 407.0,339.2 407.6,339.4 408.2,339.3 408.8,339.6 409.4,339.9 410.0,340.0 410.6,340.2 411.2,340.2 411.8,340.3 412.4,340.3 413.0,340.2 413.7,340.8 414.3,341.9 415.0,342.0 415.7,343.5 416.3,344.8 417.0,346.2 417.7,348.1 418.3,349.9 419.0,352.0 419.7,354.4 420.3,357.3 421.0,360.1 421.7,361.0 422.3,362.7 423.0,364.1 423.7,365.2 424.3,365.9 425.0,366.9 425.7,368.7 426.3,370.9 427.0,373.1 427.7,375.0 428.3,376.2 429.0,378.2 429.7,379.7 430.3,381.3 431.0,383.3 431.7,384.3 432.3,386.3 433.0,388.0 433.7,389.3 434.3,390.3 435.0,391.3 435.6,392.0 436.2,393.2 436.8,394.2 437.4,395.1 438.0,396.1 438.6,397.0 439.2,397.9 439.8,398.8 440.4,400.4 441.0,400.9 441.6,401.4 442.2,402.7 442.8,403.4 443.4,404.2 444.0,405.4 444.7,405.6 445.3,406.3 446.0,406.8 446.7,407.7 447.3,408.2 448.0,409.1 448.7,410.4 449.3,410.1 450.0,410.3 450.7,411.6 451.3,411.8 452.0,412.3 452.7,412.6 453.3,412.9 454.0,413.2 454.7,413.8 455.3,414.0 456.0,414.5 456.7,414.1 457.3,414.5 458.0,414.5 458.7,415.4 459.3,415.7 460.0,415.4 460.7,416.1 461.3,417.1 462.0,416.8 462.7,416.1 463.3,416.7 464.0,417.3 464.6,417.2 465.2,417.6 465.8,418.1 466.4,417.9 467.0,417.5 467.6,418.5 468.2,418.4 468.8,418.7 469.4,418.5 470.0,418.3 470.6,418.5 471.2,419.1 471.9,418.9 472.5,418.2 473.1,420.2 473.8,419.2 474.4,419.5 475.0,420.3 475.6,419.0 476.2,420.9 476.9,420.0 477.5,420.8 478.1,420.4 478.8,420.9 479.4,420.9 480.0,421.0 480.6,420.2 481.2,420.4 481.9,421.2 482.5,421.9 483.1,421.0 483.8,421.6 484.4,421.5 485.0,421.7 485.6,422.0 486.2,420.9 486.9,421.8 487.5,421.7 488.1,421.7 488.8,421.5 489.4,421.6 490.0,421.5 490.6,421.5 491.2,423.3 491.9,422.9 492.5,422.1 493.1,422.5 493.8,421.7 494.4,420.8 495.0,421.3 495.6,422.3 496.2,423.0 496.9,422.3 497.5,421.8 498.1,422.2 498.8,421.9 499.4,421.7 500.0,422.3 500.6,422.2 501.2,422.0 501.9,422.0 502.5,422.0 503.1,422.6 503.8,423.2 504.4,422.4 505.0,423.6 505.6,421.7 506.2,422.7 506.9,422.0 507.5,422.5 508.1,422.6 508.8,422.8 509.4,423.1 510.0,422.3 510.6,422.0 511.2,422.5 511.9,422.8 512.5,422.3 513.1,423.1 513.8,423.5 514.4,422.0 515.0,422.9 515.6,423.2 516.2,421.8 516.9,422.8 517.5,422.6 518.1,422.1 518.8,423.4 519.4,422.9 520.0,422.6 520.6,423.0 521.2,423.1 521.8,423.2 522.5,423.1 523.1,423.1 523.7,422.3 524.3,422.7 524.9,423.0 525.5,421.6 526.2,424.0 526.8,422.8 527.4,422.5 528.0,422.1 528.6,422.7 529.2,422.2 529.8,421.5 530.4,421.2 531.0,420.6 531.7,421.4 532.3,422.4 533.0,422.9 533.6,423.6 534.2,423.3 534.8,423.5 535.4,423.7 536.0,424.2 536.7,424.0 537.3,423.9 538.0,423.8 538.7,423.6 539.3,423.9 540.0,424.5 540.6,424.3 541.2,424.0 541.8,423.6 542.4,423.5 543.0,424.4 543.6,424.5 544.2,423.9 544.8,422.8 545.4,423.1 546.0,423.1 546.7,422.6 547.3,423.2 548.0,423.0 548.7,422.7 549.3,422.6 550.0,423.6 550.7,423.4 551.3,422.9 552.0,422.9 552.7,423.9 553.3,423.8 554.0,423.5 554.7,424.3 555.3,423.4 556.0,423.0 556.7,424.0 557.3,423.3 558.0,423.6 558.7,423.5 559.3,423.0 560.0,422.9 560.7,423.4 561.3,424.3 562.0,423.6"/>
<polyline stroke="#00FF00" points="64.0,424.2 64.6,425.3 65.2,424.7 65.8,424.0 66.4,424.7 67.0,424.8 67.6,424.0 68.2,423.4 68.8,424.6 69.4,423.8 70.0,424.5 70.6,423.4 71.2,424.4 71.8,424.1 72.4,423.8 73.0,424.5 73.6,424.7 74.2,424.4 74.8,424.2 75.4,424.9 76.0,424.0 76.6,425.1 77.2,425.0 77.8,425.5 78.4,425.1 79.0,424.8 79.6,424.7 80.2,424.5 80.8,423.8 81.4,425.1 82.0,424.6 82.6,424.2 83.2,423.8 83.8,425.1 84.4,424.6 85.0,423.8 85.6,424.7 86.2,425.4 86.8,424.4 87.4,424.7 88.0,424.3 88.6,424.2 89.2,425.1 89.8,426.1 90.4,424.7 91.0,424.6 91.6,425.1 92.2,424.6 92.8,425.2 93.4,425.3 94.0,424.4 94.6,424.5 95.2,425.1 95.8,425.7 96.4,425.5 97.0,426.1 97.6,424.7 98.2,425.4 98.8,424.7 99.4,424.9 100.0,424.9 100.7,424.4 101.3,425.0 102.0,424.7 102.7,425.6 103.3,425.3 104.0,425.7 104.6,425.8 105.2,425.1 105.8,425.7 106.4,424.6 107.0,425.1 107.6,424.8 108.2,424.1 108.9,424.4 109.5,424.1 110.1,424.3 110.8,424.3 111.4,425.2 112.0,424.1 112.6,425.1 113.2,424.6 113.8,423.8 114.4,423.4 115.0,424.9 115.6,423.7 116.2,425.1 116.8,425.3 117.4,425.0 118.0,424.8 118.6,424.7 119.2,424.9 119.8,424.6 120.4,424.5 121.0,424.5 121.6,425.2 122.2,424.3 122.8,424.8 123.4,424.0 124.0,424.2 124.6,423.9 125.2,424.4 125.8,424.9 126.4,424.7 127.0,424.4 127.6,424.9 128.2,424.5 128.8,424.8 129.4,424.8 130.0,425.0 130.6,423.5 131.2,424.0 131.8,425.0 132.4,424.5 133.0,425.6 133.6,424.3 134.2,424.2 134.8,425.1 135.4,424.6 136.0,425.2 136.6,424.5 137.2,424.1 137.8,424.5 138.4,423.7 139.0,423.8 139.6,423.7 140.2,423.8 140.8,424.3 141.4,423.6 142.0,423.9 142.6,423.5 143.2,424.1 143.8,422.3 144.4,423.4 145.0,423.6 145.6,422.9 146.2,423.8 146.8,423.4 147.4,423.9 148.0,423.6 148.6,423.4 149.2,422.9 149.8,422.4 150.4,422.7 151.0,422.5 151.6,422.7 152.2,422.3 152.8,423.8 153.4,421.6 154.0,422.7 154.6,421.9 155.2,421.8 155.8,422.2 156.4,421.6 157.0,421.0 157.6,421.5 158.2,421.1 158.8,420.2 159.4,421.0 160.0,420.4 160.6,420.3 161.2,420.6 161.8,420.4 162.4,420.1 163.0,420.8 163.6,420.0 164.2,419.5 164.8,419.6 165.4,419.3 166.0,418.5 166.6,418.6 167.2,418.5 167.8,419.4 168.4,418.6 169.0,418.4 169.6,418.2 170.2,418.4 170.8,418.0 171.4,418.3 172.0,417.9 172.7,417.9 173.4,417.3 174.2,417.2 174.9,416.8 175.6,416.7 176.2,415.8 176.8,415.6 177.4,415.1 178.0,414.7 178.7,414.4 179.4,413.7 180.2,413.2 180.9,412.6 181.6,412.0 182.2,410.8 182.8,409.3 183.7,406.8 184.6,404.0 185.2,402.7 185.8,401.8 186.4,400.7 187.0,399.5 187.6,399.2 188.2,398.3 188.8,397.3 189.7,397.7 190.6,398.1 191.2,397.5 191.8,396.7 192.7,395.7 193.6,395.0 194.3,391.6 195.0,388.1 195.7,386.4 196.3,384.8 197.0,382.9 197.6,382.8 198.2,382.6 198.8,382.5 199.4,382.2 200.0,382.1 200.6,380.8 201.2,379.9 201.8,378.1 202.4,377.2 203.0,376.4 203.6,373.8 204.2,371.2 204.9,369.3 205.5,366.8 206.1,364.7 206.8,362.5 207.4,360.5 208.0,358.1 208.7,355.1 209.3,352.1 210.0,349.0 210.7,345.9 211.3,343.0 212.0,340.0 212.7,337.3 213.3,334.6 214.0,331.9 215.0,329.8 216.0,331.9 216.7,335.3 217.3,338.6 218.0,342.0 218.7,346.2 219.3,350.0 220.0,354.0 221.0,355.8 221.6,358.6 222.2,361.7 222.8,364.3 223.4,367.3 224.0,369.8 224.6,375.2 225.2,380.4 225.8,385.7 226.4,390.7 227.0,395.9 227.7,400.4 228.3,404.7 229.0,409.2 229.7,408.6 230.3,408.3 231.0,408.0 231.6,405.7 232.2,403.2 232.8,400.9 233.4,398.2 234.0,396.4 234.7,388.9 235.3,381.3 236.0,373.8 236.7,366.0 237.3,358.1 238.0,349.7 238.7,345.3 239.3,340.5 240.0,336.1 241.0,330.2 241.6,328.5 242.2,326.6 242.8,325.4 243.4,323.7 244.0,321.9 244.6,320.3 245.2,318.7 245.8,316.7 246.4,315.0 247.2,315.4 248.0,316.2 249.0,325.7 249.7,320.5 250.3,314.5 251.0,309.1 251.6,307.0 252.2,305.3 252.8,303.5 253.4,301.9 254.0,299.8 254.7,297.8 255.3,295.2 256.0,293.2 256.7,290.6 257.3,288.4 258.0,286.0 258.7,284.3 259.3,281.9 260.0,280.0 260.7,278.3 261.3,276.0 262.0,274.1 262.6,272.5 263.2,271.2 263.8,269.5 264.4,268.4 265.0,266.9 265.8,267.3 266.6,267.8 267.3,282.2 268.0,296.1 268.8,273.8 269.6,252.3 270.3,249.4 271.0,246.9 271.8,249.5 272.6,251.8 273.5,247.8 274.4,243.9 275.0,242.4 275.7,240.6 276.4,238.5 277.0,237.2 277.7,235.3 278.3,233.7 279.0,232.0 280.0,230.1 280.6,223.9 281.3,217.9 281.9,211.9 282.5,207.9 283.1,204.1 283.8,199.8 284.4,197.1 285.0,193.7 285.6,190.5 286.5,189.5 287.5,195.1 288.1,200.0 288.8,204.8 289.6,187.4 290.6,179.8 291.5,180.8 292.5,187.7 293.5,181.5 294.2,177.6 295.0,173.8 295.6,172.2 296.3,170.6 296.9,168.7 297.5,168.3 298.1,168.1 298.8,167.1 299.4,166.7 300.0,166.9 300.6,167.4 301.2,167.7 302.2,168.7 303.1,175.1 304.0,172.5 305.0,166.3 305.6,165.9 306.2,165.6 307.1,167.5 308.1,162.0 308.8,161.6 309.4,160.4 310.0,161.3 310.6,161.9 311.2,162.6 311.9,163.3 312.5,162.3 313.1,161.4 313.8,161.7 314.4,162.3 315.0,164.9 315.6,167.1 316.2,166.4 316.9,166.4 317.5,167.0 318.1,167.1 318.8,170.1 319.4,172.4 320.0,181.4 320.6,172.4 321.5,162.4 322.3,161.0 323.1,160.0 323.7,159.7 324.4,159.1 325.0,158.5 325.6,159.4 326.2,159.6 326.9,158.5 327.5,157.4 328.1,157.1 328.8,156.8 329.4,157.0 330.0,156.4 330.6,155.5 331.2,155.0 331.9,153.4 332.5,151.8 333.1,151.0 333.8,150.3 334.4,149.6 335.0,149.5 335.8,148.2 336.6,146.6 337.4,145.2 338.0,143.8 338.6,143.0 339.8,142.1 340.8,149.9 341.6,140.4 342.8,134.3 344.0,129.4 345.2,126.0 346.4,125.0 347.0,124.3 347.6,123.9 348.4,125.2 349.4,128.1 350.0,129.9 350.6,130.7 351.5,130.9 352.4,131.4 353.0,133.6 353.6,135.4 354.8,140.3 356.0,144.0 356.6,144.3 357.2,144.9 357.8,145.3 359.0,148.9 360.2,154.7 361.4,160.8 362.0,162.8 362.6,165.0 363.5,165.6 364.4,166.2 365.2,166.3 366.0,166.6 366.8,167.9 367.6,172.8 368.6,176.5 369.8,178.3 370.6,179.5 371.6,191.9 372.3,196.1 373.0,200.1 373.7,202.7 374.3,205.2 375.0,208.1 375.7,210.8 376.3,213.3 377.0,216.1 377.7,217.3 378.3,217.7 379.0,219.1 379.7,220.8 380.3,222.8 381.0,225.0 381.7,226.7 382.3,228.3 383.0,229.8 383.6,231.0 384.2,232.3 384.8,233.6 385.4,234.7 386.0,235.8 386.6,237.5 387.2,238.3 387.8,239.6 388.4,240.7 389.0,241.9 389.7,244.0 390.3,246.0 391.0,248.1 391.7,250.5 392.3,253.1 393.0,256.3 393.7,260.0 394.4,264.1 395.0,268.2 395.6,272.1 396.3,271.0 397.0,269.8 397.7,270.8 398.3,272.1 399.0,273.1 399.7,274.4 400.3,275.4 401.0,276.7 401.7,278.2 402.3,279.5 403.0,281.0 403.7,282.2 404.3,283.9 405.0,284.9 405.7,287.9 406.3,291.1 407.0,294.0 407.8,296.4 408.6,299.1 409.3,298.8 410.0,297.8 410.7,299.0 411.3,299.8 412.0,300.7 412.6,301.7 413.2,302.3 413.8,302.9 414.4,303.5 415.0,303.7 415.6,303.8 416.2,303.5 416.8,303.2 417.4,303.0 418.0,303.1 418.8,303.0 419.6,303.3 420.3,306.6 421.0,309.7 421.7,313.1 422.4,316.2 423.2,319.0 424.0,321.8 424.7,324.9 425.3,327.1 426.0,330.0 426.8,334.7 427.6,339.8 428.3,344.8 429.0,350.2 429.7,355.2 430.4,359.9 431.2,364.8 432.0,370.0 432.7,374.1 433.4,377.8 434.2,381.8 435.0,386.0 435.7,388.1 436.3,390.0 437.0,392.1 437.7,393.5 438.3,394.9 439.0,397.1 439.7,397.8 440.3,399.0 441.0,399.9 441.6,400.9 442.2,401.4 442.8,402.7 443.4,403.2 444.0,404.1 444.6,404.8 445.2,405.5 445.8,405.9 446.4,405.9 447.0,406.8 447.6,407.8 448.2,407.7 448.8,408.0 449.4,408.3 450.0,408.2 450.7,408.6 451.3,409.0 452.0,409.9 452.7,409.9 453.3,410.7 454.0,410.7 454.7,411.4 455.3,411.2 456.0,410.9 456.7,412.2 457.3,412.0 458.0,412.5 458.7,412.2 459.3,412.1 460.0,412.4 460.7,411.9 461.3,411.9 462.0,412.1 462.7,412.5 463.3,412.5 464.0,413.3 464.7,413.7 465.3,414.7 466.0,414.9 466.7,414.3 467.3,415.0 468.0,414.8 468.7,415.4 469.3,415.4 470.0,415.4 470.6,416.0 471.2,415.5 471.9,416.7 472.5,416.6 473.1,416.4 473.8,417.0 474.4,417.7 475.0,417.4 475.6,418.1 476.2,418.3 476.9,419.0 477.5,417.9 478.1,418.5 478.8,419.0 479.4,419.7 480.0,419.2 480.6,419.6 481.2,418.7 481.9,419.3 482.5,420.5 483.1,419.7 483.8,421.1 484.4,419.8 485.0,420.2 485.6,419.7 486.2,420.9 486.9,420.9 487.5,421.9 488.1,421.1 488.8,421.1 489.4,420.7 490.0,421.5 490.6,422.0 491.2,421.9 491.9,422.2 492.5,422.1 493.1,421.7 493.8,422.0 494.4,421.8 495.0,421.1 495.6,422.7 496.2,422.1 496.9,421.4 497.5,422.1 498.1,422.1 498.8,422.5 499.4,422.8 500.0,420.6 500.6,422.4 501.2,422.9 501.9,421.7 502.5,421.3 503.1,422.4 503.8,422.4 504.4,422.4 505.0,421.8 505.6,422.1 506.2,422.4 506.9,422.7 507.5,423.5 508.1,422.6 508.8,422.2 509.4,421.3 510.0,423.0 510.6,422.4 511.2,422.5 511.9,422.0 512.5,422.9 513.1,421.7 513.8,422.6 514.4,422.6 515.0,422.7 515.6,423.3 516.2,422.6 516.9,422.7 517.5,423.1 518.1,421.9 518.8,422.5 519.4,422.7 520.0,423.2 520.6,422.3 521.2,423.1 521.9,423.0 522.5,422.1 523.1,422.1 523.8,422.1 524.4,422.9 525.0,423.0 525.6,423.3 526.2,423.4 526.9,422.7 527.5,423.5 528.1,423.4 528.8,423.3 529.4,423.3 530.0,422.5 530.6,423.3 531.2,422.7 531.8,422.7 532.4,423.2 533.0,423.5 533.6,423.4 534.2,423.4 534.8,423.1 535.4,423.7 536.0,423.3 536.7,423.1 537.3,423.9 538.0,424.7 538.7,423.9 539.3,423.7 540.0,425.0 540.6,425.2 541.2,424.2 541.8,424.2 542.4,424.4 543.0,425.8 543.6,424.1 544.2,424.3 544.8,423.8 545.4,422.4 546.0,422.6 546.7,422.5 547.3,423.4 548.0,423.3 548.7,424.1 549.3,423.1 550.0,423.5 550.7,423.4 551.3,423.5 552.0,424.7 552.7,423.7 553.3,424.4 554.0,424.3 554.7,423.4 555.3,424.0 556.0,423.4 556.7,423.6 557.3,423.6 558.0,423.5 558.7,423.3 559.3,424.3 560.0,423.5 560.7,424.0 561.3,424.5 562.0,423.6"/>
<polyline stroke="#FF8000" points="64.0,425.1 64.6,425.3 65.2,425.4 65.8,425.2 66.4,425.5 67.0,423.9 67.6,425.5 68.2,424.5 68.8,423.6 69.4,424.1 70.0,423.7 70.6,424.4 71.2,423.8 71.8,424.1 72.4,424.8 73.0,424.8 73.6,424.4 74.2,424.7 74.8,424.8 75.4,425.0 76.0,425.0 76.6,424.8 77.2,425.3 77.8,424.0 78.4,424.5 79.0,424.8 79.6,424.4 80.2,424.3 80.8,424.3 81.4,424.6 82.0,425.0 82.6,424.3 83.2,424.3 83.8,424.6 84.4,424.4 85.0,423.5 85.6,424.7 86.2,424.4 86.8,424.3 87.4,424.9 88.0,424.6 88.6,424.4 89.2,423.6 89.8,423.9 90.4,424.8 91.0,424.7 91.6,425.1 92.2,425.0 92.8,424.7 93.4,424.3 94.0,424.5 94.6,425.1 95.2,424.7 95.8,425.7 96.4,424.8 97.0,424.7 97.6,425.3 98.2,424.4 98.8,425.9 99.4,424.5 100.0,424.8 100.7,424.9 101.3,424.8 102.0,424.5 102.7,424.7 103.3,426.2 104.0,426.5 104.6,426.8 105.2,424.8 105.8,425.6 106.4,425.0 107.0,425.2 107.6,424.5 108.2,425.1 108.9,425.1 109.5,424.9 110.1,425.3 110.8,424.4 111.4,425.2 112.0,424.0 112.6,425.3 113.2,423.1 113.8,424.6 114.4,424.2 115.0,424.7 115.6,425.3 116.2,425.2 116.8,424.9 117.4,425.8 118.0,424.3 118.6,424.6 119.2,425.7 119.8,425.0 120.4,423.8 121.0,425.0 121.6,424.2 122.2,425.5 122.8,425.3 123.4,424.4 124.0,425.2 124.6,424.2 125.2,425.1 125.8,424.9 126.4,424.6 127.0,424.0 127.6,424.6 128.2,423.6 128.8,424.5 129.4,423.9 130.0,425.4 130.6,424.3 131.2,423.5 131.8,425.0 132.4,424.8 133.0,424.3 133.6,425.6 134.2,424.9 134.8,424.5 135.4,424.1 136.0,422.9 136.6,424.5 137.2,424.7 137.8,423.8 138.4,423.2 139.0,423.8 139.6,422.9 140.2,423.6 140.8,423.9 141.4,424.1 142.0,423.4 142.6,423.3 143.2,423.5 143.8,423.8 144.4,422.9 145.0,422.3 145.6,422.5 146.2,422.2 146.8,422.3 147.4,422.7 148.0,422.8 148.6,422.6 149.2,422.5 149.8,422.2 150.4,422.5 151.0,422.6 151.6,422.5 152.2,422.7 152.8,421.8 153.4,421.7 154.0,422.5 154.6,421.6 155.2,421.6 155.8,421.1 156.4,421.5 157.0,420.8 157.6,420.4 158.2,420.7 158.8,420.4 159.4,420.7 160.0,420.1 160.6,420.2 161.2,419.9 161.8,419.9 162.4,419.4 163.0,419.9 163.6,418.8 164.2,419.0 164.8,418.8 165.4,419.1 166.0,418.7 166.6,418.7 167.2,418.3 167.8,418.0 168.4,417.8 169.0,417.9 169.6,417.7 170.2,417.6 170.8,417.5 171.4,417.5 172.0,417.0 172.7,416.7 173.4,416.4 174.2,416.5 174.9,416.4 175.6,416.6 176.2,415.7 176.8,415.6 177.4,415.2 178.0,414.1 178.7,414.2 179.3,413.8 180.0,413.4 180.7,412.8 181.3,412.6 182.0,411.9 182.7,410.7 183.3,409.3 184.0,408.3 184.7,406.6 185.3,405.5 186.0,404.0 186.7,400.9 187.3,398.0 188.0,395.1 188.7,391.9 189.3,389.1 190.0,385.9 190.6,384.3 191.2,382.8 191.8,381.2 192.4,379.5 193.0,377.8 193.7,376.0 194.3,374.0 195.0,371.9 195.7,370.0 196.3,367.8 197.0,366.1 197.6,364.5 198.2,362.8 198.8,361.1 199.4,359.6 200.0,358.0 200.6,355.8 201.2,353.2 201.8,350.8 202.4,348.3 203.0,346.1 203.7,342.8 204.3,339.3 205.0,336.1 205.7,333.0 206.4,330.0 207.1,327.8 207.7,326.3 208.3,323.7 209.0,322.0 209.7,319.9 210.3,318.2 210.9,315.9 211.6,314.0 212.2,313.1 212.8,312.1 213.4,310.9 214.0,310.1 214.7,310.0 215.3,309.9 216.0,309.6 216.7,309.6 217.3,309.4 218.0,309.3 218.7,310.7 219.4,312.1 220.4,322.2 221.6,321.0 222.4,330.1 223.1,335.8 223.8,341.2 224.4,349.4 225.0,357.5 226.0,375.9 226.7,382.5 227.3,389.5 228.0,396.0 228.6,400.0 229.3,394.8 230.0,390.0 230.7,383.5 231.3,376.5 232.0,369.9 232.7,360.8 233.3,351.5 234.0,342.2 235.0,329.9 235.7,323.4 236.3,316.6 237.0,310.1 237.7,305.9 238.3,302.0 239.0,298.2 239.7,297.3 240.3,296.4 241.0,295.6 241.6,295.8 242.2,295.8 242.9,296.1 243.5,296.3 244.5,300.2 245.5,310.7 246.5,301.3 247.5,302.3 248.5,316.1 249.0,329.4 249.6,312.0 250.2,305.0 251.2,300.2 251.9,298.8 252.6,298.3 253.3,297.0 254.0,296.6 254.6,295.6 255.3,294.8 256.0,294.1 256.7,292.2 257.3,290.8 258.0,289.0 258.7,287.4 259.3,286.0 260.0,283.9 260.6,282.7 261.2,281.1 261.8,280.0 262.4,278.5 263.0,277.0 263.6,275.6 264.3,274.2 265.0,272.7 265.6,271.0 266.3,279.3 266.9,287.8 267.6,295.8 268.5,272.9 269.4,250.1 270.2,247.1 271.0,244.3 271.7,246.3 272.4,248.0 273.2,243.1 274.0,237.8 274.6,237.2 275.2,236.4 275.8,235.6 276.4,234.8 277.0,234.1 277.7,232.2 278.3,230.6 279.0,228.7 279.6,226.2 280.2,222.8 280.8,219.7 281.4,217.1 282.0,214.0 282.9,211.5 283.8,208.7 284.4,207.6 285.0,205.9 285.6,204.4 286.2,204.7 286.9,205.0 288.0,221.1 288.7,210.8 289.4,199.9 290.2,193.6 291.2,195.7 291.9,199.5 292.5,202.9 293.5,192.4 294.2,189.9 295.0,187.6 295.6,186.7 296.3,185.7 296.9,184.8 297.5,184.7 298.1,183.9 298.8,183.8 299.4,183.5 300.0,183.6 300.6,183.3 301.2,183.7 301.9,184.3 302.8,190.0 303.4,195.5 304.4,186.3 305.4,182.6 306.2,186.0 307.1,180.0 308.1,175.8 308.8,175.4 309.4,174.9 310.0,175.5 310.6,176.1 311.5,179.1 312.5,176.4 313.1,177.2 313.8,178.0 314.4,178.8 315.0,179.9 316.0,183.7 316.9,192.1 317.5,183.7 318.5,185.0 319.4,193.9 319.7,214.1 320.9,181.2 321.9,175.9 322.5,175.4 323.1,174.3 323.8,173.1 324.4,172.3 325.0,171.3 325.6,170.5 326.2,169.4 326.9,168.6 327.5,167.6 328.1,166.3 328.8,165.1 329.4,163.8 330.0,162.5 330.6,161.1 331.2,159.5 331.9,157.7 332.5,155.7 333.1,153.9 333.8,151.8 334.4,149.9 335.0,145.4 335.6,143.1 336.2,141.2 336.8,139.2 338.0,133.2 339.2,127.8 340.0,127.1 341.0,135.9 341.8,124.3 342.6,117.6 343.6,116.7 344.8,107.3 345.6,103.0 346.4,101.9 347.2,95.0 348.2,90.1 349.0,89.6 350.0,86.0 351.2,85.3 352.4,86.1 353.0,87.5 353.6,89.6 354.4,91.0 355.0,95.3 355.6,102.5 356.0,120.2 356.3,160.0 356.8,111.0 357.4,104.3 358.4,103.2 359.2,104.4 360.0,108.7 361.0,114.8 362.0,120.7 362.8,124.2 364.0,124.6 364.8,125.0 365.6,125.0 366.4,127.2 367.4,133.5 368.0,144.2 368.7,196.1 369.4,162.0 370.0,149.9 370.8,149.6 371.6,152.9 372.8,160.9 374.0,167.9 375.2,172.8 376.4,175.9 377.0,176.7 377.6,177.6 378.4,179.1 379.2,180.4 380.0,181.8 380.6,183.4 381.2,185.1 381.8,186.2 382.4,187.5 383.0,188.9 383.7,191.3 384.3,193.8 385.0,195.9 385.7,198.7 386.3,201.4 387.0,203.9 387.7,205.2 388.3,206.6 389.0,207.9 389.7,209.6 390.4,210.7 391.0,214.7 391.6,218.1 392.6,230.1 393.6,240.2 394.3,247.1 395.0,253.7 396.0,267.0 397.0,268.1 397.7,269.6 398.3,271.2 399.0,273.1 399.7,274.7 400.3,276.3 401.0,278.0 401.7,279.9 402.3,281.9 403.0,284.0 403.7,285.5 404.3,286.4 405.0,288.0 405.7,291.6 406.3,294.7 407.0,298.0 407.7,299.5 408.3,300.5 409.0,301.8 409.7,303.4 410.3,305.1 411.0,307.0 411.7,308.8 412.3,310.3 413.0,311.9 413.6,312.7 414.2,313.3 414.8,313.8 415.4,314.1 416.0,314.9 416.6,315.2 417.2,316.2 417.8,316.7 418.4,317.3 419.0,318.2 419.7,319.5 420.3,320.7 421.0,322.0 421.7,318.0 422.4,313.9 423.2,312.0 424.0,310.3 424.8,310.9 425.6,311.9 426.3,316.0 427.0,320.1 427.7,325.1 428.4,329.9 429.4,342.0 430.0,349.0 430.6,355.8 431.3,363.0 432.0,369.9 432.7,376.1 433.4,382.1 434.2,386.9 435.0,392.0 435.7,394.3 436.3,396.6 437.0,398.9 437.7,400.5 438.3,401.6 439.0,402.7 439.6,403.5 440.2,404.4 440.8,405.2 441.4,405.2 442.0,405.9 442.6,406.3 443.2,406.5 443.8,407.3 444.4,407.6 445.0,408.1 445.6,408.8 446.2,408.3 446.8,408.8 447.4,409.0 448.0,408.8 448.7,409.1 449.3,410.0 450.0,410.0 450.7,410.3 451.3,410.2 452.0,411.1 452.7,411.2 453.3,412.0 454.0,412.0 454.7,412.0 455.3,412.1 456.0,412.2 456.7,412.2 457.3,412.6 458.0,412.8 458.7,413.1 459.3,413.4 460.0,413.3 460.6,413.1 461.2,413.8 461.8,414.3 462.4,413.4 463.0,414.1 463.6,414.3 464.2,414.4 464.8,414.5 465.4,414.4 466.0,414.6 466.6,415.6 467.2,415.8 467.8,414.5 468.4,414.2 469.0,415.8 469.6,415.5 470.2,415.7 470.8,415.4 471.4,416.6 472.0,416.6 472.6,416.5 473.2,417.4 473.8,418.4 474.5,418.1 475.1,418.2 475.7,417.6 476.3,418.3 476.9,418.2 477.5,419.0 478.2,418.9 478.8,418.8 479.4,419.3 480.0,418.9 480.6,419.7 481.2,420.2 481.9,419.5 482.5,420.1 483.1,419.1 483.8,420.6 484.4,420.7 485.0,419.9 485.6,421.4 486.2,420.8 486.9,420.0 487.5,420.3 488.1,421.6 488.8,421.2 489.4,422.0 490.0,420.8 490.6,421.6 491.2,422.1 491.9,421.4 492.5,422.1 493.1,421.6 493.8,422.0 494.4,422.0 495.0,423.0 495.6,421.3 496.2,422.4 496.9,422.7 497.5,421.5 498.1,422.1 498.8,423.2 499.4,422.7 500.0,420.8 500.6,422.1 501.2,421.4 501.9,422.4 502.5,421.9 503.1,422.1 503.8,421.9 504.4,422.5 505.0,422.2 505.6,422.0 506.2,422.3 506.9,422.7 507.5,422.1 508.1,423.1 508.8,421.7 509.4,422.8 510.0,422.4 510.6,423.4 511.2,422.3 511.9,422.3 512.5,422.0 513.1,423.6 513.8,423.0 514.4,422.2 515.0,422.5 515.6,422.2 516.2,423.5 516.9,422.9 517.5,421.8 518.1,422.9 518.8,423.2 519.4,422.8 520.0,423.0 520.6,422.8 521.2,423.0 521.9,423.0 522.5,422.6 523.1,423.1 523.8,423.0 524.4,423.0 525.0,422.7 525.6,422.5 526.2,423.2 526.9,423.5 527.5,421.9 528.1,422.9 528.8,423.8 529.4,423.6 530.0,422.9 530.6,423.9 531.2,422.8 531.8,423.0 532.4,424.4 533.0,423.3 533.6,423.5 534.2,422.8 534.8,423.2 535.4,423.2 536.0,423.7 536.7,423.0 537.3,424.5 538.0,423.9 538.7,423.9 539.3,424.0 540.0,424.8 540.6,425.1 541.2,424.2 541.8,425.2 542.4,425.2 543.0,425.1 543.6,424.3 544.2,423.2 544.8,424.0 545.4,423.2 546.0,423.3 546.7,422.3 547.3,423.1 548.0,423.4 548.7,422.9 549.3,423.5 550.0,424.2 550.7,423.6 551.3,423.2 552.0,424.8 552.7,422.6 553.3,423.3 554.0,424.0 554.7,423.5 555.3,422.6 556.0,423.8 556.7,424.1 557.3,423.2 558.0,424.3 558.7,423.9 559.3,424.2 560.0,423.0 560.7,423.7 561.3,424.5 562.0,423.6"/>
<polyline stroke="#FF0000" points="64.0,425.9 64.6,425.5 65.2,424.8 65.8,424.9 66.4,424.4 67.0,425.2 67.6,424.3 68.2,424.7 68.8,423.6 69.4,423.8 70.0,425.4 70.6,424.6 71.2,424.7 71.8,423.6 72.4,424.7 73.0,425.8 73.6,424.1 74.2,423.8 74.8,424.9 75.4,424.8 76.0,425.0 76.6,424.4 77.2,424.3 77.8,424.3 78.4,425.2 79.0,424.8 79.6,425.1 80.2,424.2 80.8,424.9 81.4,424.3 82.0,424.5 82.6,425.0 83.2,424.6 83.8,424.4 84.4,423.8 85.0,424.6 85.6,425.0 86.2,424.3 86.8,424.6 87.4,423.8 88.0,424.0 88.6,424.9 89.2,425.4 89.8,424.7 90.4,424.0 91.0,424.7 91.6,424.2 92.2,424.8 92.8,426.0 93.4,425.2 94.0,425.0 94.6,425.7 95.2,425.2 95.8,425.6 96.4,425.7 97.0,425.9 97.6,424.8 98.2,425.7 98.8,425.7 99.4,423.9 100.0,423.6 100.7,424.7 101.3,426.0 102.0,425.5 102.7,426.0 103.3,426.2 104.0,426.5 104.6,425.5 105.2,425.3 105.8,425.6 106.4,425.4 107.0,425.2 107.6,425.0 108.2,424.6 108.9,425.3 109.5,424.9 110.1,425.2 110.8,423.4 111.4,425.0 112.0,423.3 112.6,424.7 113.2,424.3 113.8,424.7 114.4,424.5 115.0,424.6 115.6,425.0 116.2,425.1 116.8,424.6 117.4,423.8 118.0,424.7 118.6,425.3 119.2,424.6 119.8,425.2 120.4,424.8 121.0,424.4 121.6,425.4 122.2,425.6 122.8,424.7 123.4,424.7 124.0,425.2 124.6,424.1 125.2,424.3 125.8,425.3 126.4,425.2 127.0,424.6 127.6,424.4 128.2,425.0 128.8,424.2 129.4,424.6 130.0,424.8 130.6,423.6 131.2,425.1 131.8,425.2 132.4,425.3 133.0,424.0 133.6,424.0 134.2,424.2 134.8,423.9 135.4,425.6 136.0,424.0 136.6,424.3 137.2,424.5 137.8,424.5 138.4,425.0 139.0,423.6 139.6,424.6 140.2,424.1 140.8,423.4 141.4,424.0 142.0,423.2 142.6,424.6 143.2,423.4 143.8,424.2 144.4,424.3 145.0,423.3 145.6,423.1 146.2,423.5 146.8,422.9 147.4,423.8 148.0,423.3 148.6,422.8 149.2,422.7 149.8,423.3 150.4,422.2 151.0,423.6 151.6,422.3 152.2,422.5 152.8,422.1 153.4,423.1 154.0,422.7 154.6,422.7 155.2,422.3 155.8,421.9 156.4,422.5 157.0,421.9 157.6,421.6 158.2,421.5 158.8,421.4 159.4,421.1 160.0,420.8 160.6,420.1 161.2,421.3 161.8,419.9 162.4,419.4 163.0,419.8 163.6,420.6 164.2,420.2 164.8,419.4 165.4,419.5 166.0,419.3 166.6,418.5 167.2,418.9 167.8,419.0 168.4,419.1 169.0,418.2 169.6,417.8 170.2,417.5 170.8,417.9 171.4,417.7 172.0,417.6 172.7,417.4 173.4,417.1 174.2,416.6 174.9,416.9 175.6,416.7 176.2,416.3 176.8,416.0 177.4,415.0 178.0,414.3 178.7,413.9 179.4,414.3 180.2,413.2 180.9,413.0 181.6,412.4 182.2,411.8 182.8,411.5 183.4,410.1 184.0,409.4 184.6,408.0 185.2,406.7 185.8,405.4 186.4,403.9 187.3,401.5 188.2,398.8 188.8,396.9 189.4,395.0 190.2,391.5 191.0,387.8 191.6,386.5 192.2,384.7 192.8,383.1 193.4,381.7 194.0,379.9 194.6,377.3 195.2,374.9 195.8,372.5 196.4,369.5 197.0,367.2 197.6,365.5 198.2,364.3 198.8,362.9 199.4,361.2 200.0,360.2 200.6,357.5 201.2,354.5 201.9,351.8 202.5,348.8 203.1,346.5 203.7,345.0 204.4,343.6 205.0,342.6 205.6,341.4 206.3,340.6 206.9,339.5 207.5,339.1 208.1,338.4 208.8,337.0 209.4,336.2 210.0,335.2 210.6,334.3 211.3,333.5 211.9,332.7 212.5,330.8 213.1,329.4 213.8,328.2 214.4,327.7 215.0,329.0 215.6,330.5 216.2,332.7 216.9,334.4 217.5,336.5 218.1,338.5 218.8,340.7 219.4,342.4 220.0,346.3 220.6,350.1 221.2,350.9 221.9,352.1 222.5,356.1 223.1,359.3 223.8,362.2 224.6,371.7 225.2,377.4 225.8,382.9 226.4,388.4 227.0,394.1 227.7,398.5 228.4,403.0 229.2,399.4 230.0,396.0 230.6,390.9 231.2,385.7 231.8,380.3 232.4,375.2 233.0,369.9 233.7,363.3 234.3,356.5 235.0,350.1 235.7,343.4 236.3,336.6 237.0,329.9 237.7,325.3 238.3,320.6 239.0,315.8 239.7,315.2 240.3,314.5 241.0,312.8 241.7,313.5 242.3,314.4 243.0,315.1 243.7,317.8 244.3,320.7 245.0,324.1 245.9,315.7 246.7,316.2 247.5,315.9 248.5,325.0 249.4,335.0 250.2,318.7 251.0,317.5 251.8,316.2 252.5,315.2 253.1,314.2 253.8,313.5 254.4,312.7 255.0,311.9 255.7,310.7 256.3,309.7 257.0,308.8 257.6,307.4 258.2,305.9 258.8,304.9 259.4,303.5 260.0,302.0 260.6,300.6 261.2,299.0 261.8,297.8 262.4,296.4 263.0,294.8 263.6,293.3 264.3,292.3 265.0,290.5 265.6,289.1 266.3,295.7 266.9,302.3 267.6,309.1 268.5,289.7 269.4,270.0 270.2,268.1 271.0,266.2 271.8,268.4 272.6,271.0 273.5,265.9 274.4,261.1 275.0,260.7 275.7,260.7 276.4,260.1 277.0,260.3 277.6,258.8 278.2,257.5 278.8,256.3 279.4,255.3 280.0,253.9 280.6,251.9 281.2,249.4 281.8,246.9 282.4,244.2 283.0,242.0 283.7,239.9 284.3,237.7 285.0,236.1 285.8,234.8 286.6,232.9 287.3,240.6 288.0,248.2 288.7,238.9 289.4,229.9 290.0,222.0 290.8,223.1 291.6,223.8 292.4,221.4 293.2,218.7 294.0,216.1 294.7,214.8 295.4,213.9 296.2,212.9 296.9,212.0 297.5,211.6 298.1,210.9 298.8,210.9 299.4,209.9 300.0,209.9 300.6,209.7 301.2,209.5 302.0,211.2 302.7,215.5 303.4,220.0 304.3,212.1 305.0,208.8 305.6,207.6 306.3,206.3 306.9,204.9 307.5,204.4 308.1,204.4 308.8,203.7 309.5,203.2 310.2,203.4 311.2,205.5 311.9,204.5 312.5,203.9 313.1,204.5 313.8,205.5 314.4,207.3 315.0,208.6 316.0,212.4 316.7,216.0 317.4,220.4 318.1,226.0 318.9,232.0 319.6,237.9 320.5,213.0 321.2,204.9 321.9,204.0 322.5,203.0 323.1,201.7 323.7,201.1 324.4,200.3 325.0,200.2 325.6,199.4 326.3,198.7 326.9,198.1 327.5,197.2 328.1,196.1 328.8,195.1 329.4,194.3 330.0,193.7 330.6,193.1 331.2,191.3 331.9,190.2 332.5,188.3 333.1,186.9 333.8,185.7 334.4,184.6 335.0,183.7 335.6,182.8 336.2,180.7 336.9,178.5 337.5,176.2 338.1,173.4 338.8,169.9 339.8,168.7 340.9,175.8 341.9,165.0 342.5,161.2 343.1,157.4 343.8,155.2 344.4,152.1 344.6,150.2 345.8,145.4 347.0,140.4 348.2,136.3 349.4,135.5 350.0,133.7 350.6,131.9 351.8,125.3 352.8,123.2 353.6,124.8 354.4,128.9 355.2,135.5 355.6,150.0 356.1,175.0 356.6,155.8 357.1,139.4 358.0,138.6 359.0,141.1 360.0,142.8 360.8,148.9 362.0,155.8 363.2,161.9 364.4,163.3 365.0,164.2 365.6,164.8 366.4,167.3 367.2,172.6 367.8,184.1 368.5,232.1 369.2,196.0 370.4,193.9 371.2,197.1 372.0,200.0 372.7,202.9 373.3,206.0 374.0,208.9 374.7,210.8 375.3,212.4 376.0,213.9 376.7,215.1 377.3,216.0 378.0,216.9 378.7,217.2 379.3,217.4 380.0,217.8 380.7,220.4 381.3,222.8 382.0,224.9 382.7,226.7 383.3,228.4 384.0,230.1 384.6,231.7 385.2,233.4 385.8,234.9 386.4,236.3 387.0,238.1 387.6,239.2 388.2,241.2 388.8,242.8 389.4,244.5 390.0,246.0 390.7,249.5 391.3,252.9 392.0,255.9 392.8,261.9 393.6,268.0 394.3,275.1 395.0,282.0 395.6,290.1 396.3,289.6 397.0,289.7 397.6,290.5 398.2,291.1 398.8,291.7 399.4,292.3 400.0,293.1 400.6,293.6 401.2,294.0 401.8,294.7 402.4,295.4 403.0,295.9 403.7,296.9 404.3,298.0 405.0,298.9 405.7,301.3 406.3,303.7 407.0,306.0 407.7,307.6 408.4,309.0 409.2,308.6 410.0,307.8 410.7,308.6 411.3,309.9 412.0,311.1 412.6,311.5 413.2,312.1 413.8,312.6 414.4,313.5 415.0,313.9 415.6,314.8 416.2,315.8 416.8,316.5 417.4,317.5 418.0,318.0 418.7,317.1 419.4,316.1 420.0,317.4 420.6,319.0 421.6,324.9 422.3,320.3 423.0,316.0 423.7,314.9 424.4,314.3 425.0,315.9 425.6,317.9 426.3,322.0 427.0,325.9 428.0,330.0 429.0,339.9 429.7,345.8 430.4,351.6 431.0,356.8 431.6,362.2 432.3,367.1 433.0,372.0 433.7,376.4 434.4,381.0 435.2,384.5 436.0,387.8 436.7,389.5 437.3,391.2 438.0,393.2 438.7,394.1 439.3,395.9 440.0,396.9 440.7,398.9 441.3,399.6 442.0,401.0 442.6,402.1 443.2,402.8 443.8,403.6 444.4,403.9 445.0,405.3 445.6,406.0 446.2,406.0 446.8,406.4 447.4,406.8 448.0,407.9 448.7,408.1 449.3,408.4 450.0,408.4 450.7,410.0 451.3,410.2 452.0,410.3 452.7,411.0 453.3,410.5 454.0,411.4 454.7,411.0 455.3,412.1 456.0,411.8 456.7,412.6 457.3,412.2 458.0,412.8 458.7,413.3 459.3,412.7 460.0,413.3 460.7,413.1 461.3,414.0 462.0,413.5 462.7,413.8 463.3,414.0 464.0,414.8 464.6,414.0 465.2,414.7 465.8,414.7 466.4,414.8 467.0,414.9 467.6,415.4 468.2,415.8 468.8,415.1 469.4,416.2 470.0,415.7 470.6,416.5 471.2,417.8 471.9,416.3 472.5,417.0 473.1,417.0 473.8,417.8 474.4,417.3 475.0,416.8 475.6,417.1 476.2,418.2 476.9,418.4 477.5,419.0 478.1,418.4 478.8,419.2 479.4,418.6 480.0,419.9 480.6,419.4 481.2,419.3 481.9,419.8 482.5,420.8 483.1,419.6 483.8,419.6 484.4,419.8 485.0,419.9 485.6,420.6 486.2,421.0 486.9,420.9 487.5,421.2 488.1,421.8 488.8,421.3 489.4,420.9 490.0,420.6 490.6,421.9 491.2,421.4 491.9,421.7 492.5,422.1 493.1,422.1 493.8,421.1 494.4,421.5 495.0,422.0 495.6,422.0 496.2,422.6 496.9,421.9 497.5,421.1 498.1,422.8 498.8,421.4 499.4,421.8 500.0,422.5 500.6,421.8 501.2,423.6 501.9,422.5 502.5,422.7 503.1,422.2 503.8,423.6 504.4,422.7 505.0,422.1 505.6,423.2 506.2,421.7 506.9,422.3 507.5,422.7 508.1,422.7 508.8,422.2 509.4,423.5 510.0,423.4 510.6,422.2 511.2,422.9 511.9,422.4 512.5,422.5 513.1,423.3 513.8,422.8 514.4,422.7 515.0,422.9 515.6,422.2 516.2,423.4 516.9,422.5 517.5,423.5 518.1,422.6 518.8,422.6 519.4,423.6 520.0,423.0 520.6,422.6 521.2,422.7 521.9,423.3 522.5,423.9 523.1,423.3 523.8,422.9 524.4,422.5 525.0,422.8 525.6,423.1 526.2,423.3 526.9,422.8 527.5,423.8 528.1,422.7 528.8,422.9 529.4,423.5 530.0,423.5 530.6,423.2 531.2,423.9 531.8,422.8 532.4,424.4 533.0,424.7 533.6,424.6 534.2,423.8 534.8,424.8 535.4,423.9 536.0,424.6 536.7,423.9 537.3,424.2 538.0,424.5 538.7,423.4 539.3,424.3 540.0,425.4 540.6,423.0 541.2,424.7 541.8,425.0 542.4,424.7 543.0,424.6 543.6,425.0 544.2,424.2 544.8,422.8 545.4,423.1 546.0,423.2 546.7,423.4 547.3,423.1 548.0,423.3 548.7,424.3 549.3,422.0 550.0,424.1 550.7,424.0 551.3,423.9 552.0,423.7 552.7,423.8 553.3,424.0 554.0,424.0 554.7,423.5 555.3,424.2 556.0,423.4 556.7,423.7 557.3,423.6 558.0,423.1 558.7,424.0 559.3,423.7 560.0,423.2 560.7,423.8 561.3,423.2 562.0,423.6"/>
</g>
<g shape-rendering="crispEdges" stroke-width="1">
<line x1="65" x2="69" y1="423.5" y2="423.5" stroke="#808080"/>
<line x1="65" x2="69" y1="415.5" y2="415.5" stroke="#808080"/>
<line x1="65" x2="69" y1="408.5" y2="408.5" stroke="#808080"/>
<line x1="65" x2="69" y1="400.5" y2="400.5" stroke="#808080"/>
<line x1="65" x2="71" y1="393.5" y2="393.5" stroke="#000"/>
<line x1="65" x2="69" y1="385.5" y2="385.5" stroke="#808080"/>
<line x1="65" x2="69" y1="378.5" y2="378.5" stroke="#808080"/>
<line x1="65" x2="69" y1="370.5" y2="370.5" stroke="#808080"/>
<line x1="65" x2="69" y1="363.5" y2="363.5" stroke="#808080"/>
<line x1="65" x2="71" y1="356.5" y2="356.5" stroke="#000"/>
<line x1="65" x2="69" y1="348.5" y2="348.5" stroke="#808080"/>
<line x1="65" x2="69" y1="341.5" y2="341.5" stroke="#808080"/>
<line x1="65" x2="69" y1="333.5" y2="333.5" stroke="#808080"/>
<line x1="65" x2="69" y1="326.5" y2="326.5" stroke="#808080"/>
<line x1="65" x2="71" y1="318.5" y2="318.5" stroke="#000"/>
<line x1="65" x2="69" y1="311.5" y2="311.5" stroke="#808080"/>
<line x1="65" x2="69" y1="303.5" y2="303.5" stroke="#808080"/>
<line x1="65" x2="69" y1="296.5" y2="296.5" stroke="#808080"/>
<line x1="65" x2="69" y1="288.5" y2="288.5" stroke="#808080"/>
<line x1="65" x2="71" y1="281.5" y2="281.5" stroke="#000"/>
<line x1="65" x2="69" y1="274.5" y2="274.5" stroke="#808080"/>
<line x1="65" x2="69" y1="266.5" y2="266.5" stroke="#808080"/>
<line x1="65" x2="69" y1="259.5" y2="259.5" stroke="#808080"/>
<line x1="65" x2="69" y1="251.5" y2="251.5" stroke="#808080"/>
<line x1="65" x2="71" y1="244.5" y2="244.5" stroke="#000"/>
<line x1="65" x2="69" y1="236.5" y2="236.5" stroke="#808080"/>
<line x1="65" x2="69" y1="229.5" y2="229.5" stroke="#808080"/>
<line x1="65" x2="69" y1="221.5" y2="221.5" stroke="#808080"/>
<line x1="65" x2="69" y1="214.5" y2="214.5" stroke="#808080"/>
<line x1="65" x2="71" y1="206.5" y2="206.5" stroke="#000"/>
<line x1="65" x2="69" y1="199.5" y2="199.5" stroke="#808080"/>
<line x1="65" x2="69" y1="192.5" y2="192.5" stroke="#808080"/>
<line x1="65" x2="69" y1="184.5" y2="184.5" stroke="#808080"/>
<line x1="65" x2="69" y1="177.5" y2="177.5" stroke="#808080"/>
<line x1="65" x2="71" y1="169.5" y2="169.5" stroke="#000"/>
<line x1="65" x2="69" y1="162.5" y2="162.5" stroke="#808080"/>
<line x1="65" x2="69" y1="154.5" y2="154.5" stroke="#808080"/>
<line x1="65" x2="69" y1="147.5" y2="147.5" stroke="#808080"/>
<line x1="65" x2="69" y1="139.5" y2="139.5" stroke="#808080"/>
<line x1="65" x2="71" y1="132.5" y2="132.5" stroke="#000"/>
<line x1="65" x2="69" y1="125.5" y2="125.5" stroke="#808080"/>
<line x1="65" x2="69" y1="117.5" y2="117.5" stroke="#808080"/>
<line x1="65" x2="69" y1="110.5" y2="110.5" stroke="#808080"/>
<line x1="65" x2="69" y1="102.5" y2="102.5" stroke="#808080"/>
<line x1="65" x2="71" y1="95.5" y2="95.5" stroke="#000"/>
<line x1="65" x2="69" y1="87.5" y2="87.5" stroke="#808080"/>
<line x1="65" x2="69" y1="80.5" y2="80.5" stroke="#808080"/>
<line x1="65" x2="69" y1="72.5" y2="72.5" stroke="#808080"/>
<line x1="65" x2="69" y1="65.5" y2="65.5" stroke="#808080"/>
<line y1="426" y2="430" x1="74.5" x2="74.5" stroke="#808080"/>
<line y1="426" y2="430" x1="84.5" x2="84.5" stroke="#808080"/>
<line y1="426" y2="430" x1="94.5" x2="94.5" stroke="#808080"/>
<line y1="426" y2="430" x1="104.5" x2="104.5" stroke="#808080"/>
<line y1="425" y2="430" x1="114.5" x2="114.5" stroke="#000"/>
<line y1="426" y2="430" x1="124.5" x2="124.5" stroke="#808080"/>
<line y1="426" y2="430" x1="134.5" x2="134.5" stroke="#808080"/>
<line y1="426" y2="430" x1="144.5" x2="144.5" stroke="#808080"/>
<line y1="426" y2="430" x1="154.5" x2="154.5" stroke="#808080"/>
<line y1="425" y2="430" x1="164.5" x2="164.5" stroke="#000"/>
<line y1="426" y2="430" x1="174.5" x2="174.5" stroke="#808080"/>
<line y1="426" y2="430" x1="184.5" x2="184.5" stroke="#808080"/>
<line y1="426" y2="430" x1="193.5" x2="193.5" stroke="#808080"/>
<line y1="426" y2="430" x1="203.5" x2="203.5" stroke="#808080"/>
<line y1="425" y2="430" x1="213.5" x2="213.5" stroke="#000"/>
<line y1="426" y2="430" x1="223.5" x2="223.5" stroke="#808080"/>
<line y1="426" y2="430" x1="233.5" x2="233.5" stroke="#808080"/>
<line y1="426" y2="430" x1="243.5" x2="243.5" stroke="#808080"/>
<line y1="426" y2="430" x1="253.5" x2="253.5" stroke="#808080"/>
<line y1="425" y2="430" x1="263.5" x2="263.5" stroke="#000"/>
<line y1="426" y2="430" x1="273.5" x2="273.5" stroke="#808080"/>
<line y1="426" y2="430" x1="283.5" x2="283.5" stroke="#808080"/>
<line y1="426" y2="430" x1="293.5" x2="293.5" stroke="#808080"/>
<line y1="426" y2="430" x1="303.5" x2="303.5" stroke="#808080"/>
<line y1="425" y2="430" x1="313.5" x2="313.5" stroke="#000"/>
<line y1="426" y2="430" x1="323.5" x2="323.5" stroke="#808080"/>
<line y1="426" y2="430" x1="333.5" x2="333.5" stroke="#808080"/>
<line y1="426" y2="430" x1="343.5" x2="343.5" stroke="#808080"/>
<line y1="426" y2="430" x1="353.5" x2="353.5" stroke="#808080"/>
<line y1="425" y2="430" x1="363.5" x2="363.5" stroke="#000"/>
<line y1="426" y2="430" x1="373.5" x2="373.5" stroke="#808080"/>
<line y1="426" y2="430" x1="383.5" x2="383.5" stroke="#808080"/>
<line y1="426" y2="430" x1="393.5" x2="393.5" stroke="#808080"/>
<line y1="426" y2="430" x1="403.5" x2="403.5" stroke="#808080"/>
<line y1="425" y2="430" x1="413.5" x2="413.5" stroke="#000"/>
<line y1="426" y2="430" x1="423.5" x2="423.5" stroke="#808080"/>
<line y1="426" y2="430" x1="433.5" x2="433.5" stroke="#808080"/>
<line y1="426" y2="430" x1="442.5" x2="442.5" stroke="#808080"/>
<line y1="426" y2="430" x1="452.5" x2="452.5" stroke="#808080"/>
<line y1="425" y2="430" x1="462.5" x2="462.5" stroke="#000"/>
<line y1="426" y2="430" x1="472.5" x2="472.5" stroke="#808080"/>
<line y1="426" y2="430" x1="482.5" x2="482.5" stroke="#808080"/>
<line y1="426" y2="430" x1="492.5" x2="492.5" stroke="#808080"/>
<line y1="426" y2="430" x1="502.5" x2="502.5" stroke="#808080"/>
<line y1="425" y2="430" x1="512.5" x2="512.5" stroke="#000"/>
<line y1="426" y2="430" x1="522.5" x2="522.5" stroke="#808080"/>
<line y1="426" y2="430" x1="532.5" x2="532.5" stroke="#808080"/>
<line y1="426" y2="430" x1="542.5" x2="542.5" stroke="#808080"/>
<line y1="426" y2="430" x1="552.5" x2="552.5" stroke="#808080"/>
<rect x="64.5" y="57.5" width="498" height="373" fill="none" stroke="#000"/>
</g>
<g class="tl" text-anchor="end">
<text x="61.8" y="435.9">0</text>
<text x="61.8" y="397.9">5</text>
<text x="61.8" y="360.9">10</text>
<text x="61.8" y="322.9">15</text>
<text x="61.8" y="285.9">20</text>
<text x="61.8" y="248.9">25</text>
<text x="61.8" y="210.9">30</text>
<text x="61.8" y="173.9">35</text>
<text x="61.8" y="136.9">40</text>
<text x="61.8" y="99.9">45</text>
<text x="61.8" y="63.1">50</text>
</g>
<g class="tl" text-anchor="middle">
<text x="65.0" y="450.8" textLength="31.33" lengthAdjust="spacingAndGlyphs">-2500</text>
<text x="114.3" y="450.8" textLength="31.33" lengthAdjust="spacingAndGlyphs">-2000</text>
<text x="164.1" y="450.8" textLength="31.33" lengthAdjust="spacingAndGlyphs">-1500</text>
<text x="213.9" y="450.8" textLength="31.33" lengthAdjust="spacingAndGlyphs">-1000</text>
<text x="263.7" y="450.8" textLength="24.52" lengthAdjust="spacingAndGlyphs">-500</text>
<text x="363.5" y="450.8" textLength="20.44" lengthAdjust="spacingAndGlyphs">500</text>
<text x="413.3" y="450.8" textLength="27.25" lengthAdjust="spacingAndGlyphs">1000</text>
<text x="463.1" y="450.8" textLength="27.25" lengthAdjust="spacingAndGlyphs">1500</text>
<text x="512.9" y="450.8" textLength="27.25" lengthAdjust="spacingAndGlyphs">2000</text>
<text x="562.2" y="450.8" textLength="27.25" lengthAdjust="spacingAndGlyphs">2500</text>
</g>
<text class="al" style="font-size:13.7px" x="313.2" y="476.0" text-anchor="middle" textLength="103.3" lengthAdjust="spacingAndGlyphs">Velocity (Km/sec)</text>
<text class="al" transform="translate(35.3,243) rotate(-90)" text-anchor="middle" textLength="98" lengthAdjust="spacingAndGlyphs">Relative intensity</text>
<g class="lg">
<line x1="423" x2="444.8" y1="78" y2="78" stroke="#000000" stroke-width="2"/>
<text x="449.8" y="83.0" textLength="76.8" lengthAdjust="spacingAndGlyphs">2021-07-16.921</text>
<line x1="423" x2="444.8" y1="92" y2="92" stroke="#808080" stroke-width="2"/>
<text x="449.8" y="97.0" textLength="76.8" lengthAdjust="spacingAndGlyphs">2021-07-28.953</text>
<line x1="423" x2="444.8" y1="106" y2="106" stroke="#9370DB" stroke-width="2"/>
<text x="449.8" y="111.0" textLength="76.8" lengthAdjust="spacingAndGlyphs">2021-07-29.978</text>
<line x1="423" x2="444.8" y1="120" y2="120" stroke="#0000FF" stroke-width="2"/>
<text x="449.8" y="125.0" textLength="76.8" lengthAdjust="spacingAndGlyphs">2021-08-01.056</text>
<line x1="423" x2="444.8" y1="134" y2="134" stroke="#00FF00" stroke-width="2"/>
<text x="449.8" y="139.0" textLength="76.8" lengthAdjust="spacingAndGlyphs">2021-08-08.067</text>
<line x1="423" x2="444.8" y1="148" y2="148" stroke="#FF8000" stroke-width="2"/>
<text x="449.8" y="153.0" textLength="76.8" lengthAdjust="spacingAndGlyphs">2021-08-12.021</text>
<line x1="423" x2="444.8" y1="162" y2="162" stroke="#FF0000" stroke-width="2"/>
<text x="449.8" y="167.0" textLength="76.8" lengthAdjust="spacingAndGlyphs">2021-08-13.125</text>
</g>
</svg>
</body></html>
